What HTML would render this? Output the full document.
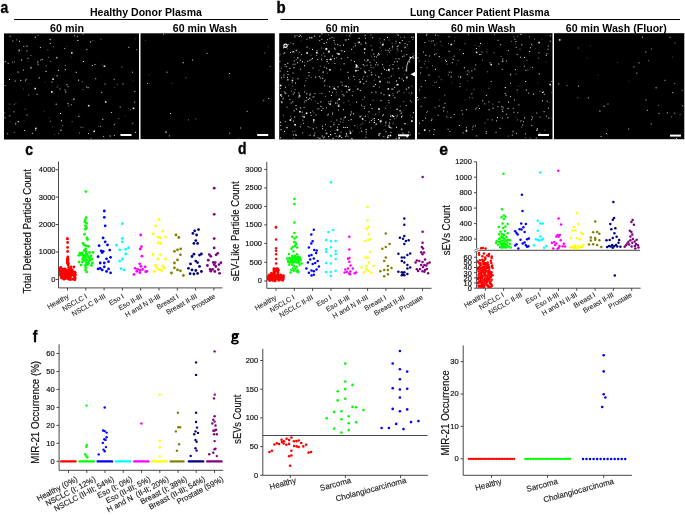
<!DOCTYPE html>
<html><head><meta charset="utf-8"><style>html,body{margin:0;padding:0;background:#fff}svg{display:block;will-change:transform}</style></head><body><svg width="685" height="516" viewBox="0 0 685 516"><rect x="4.0" y="33.4" width="135.0" height="106.1" fill="#000"/><path d="M134.8 38.8h1M101.7 64.2h1M52.1 126.8h1M53.5 93.4h1M124.5 115.9h1M132.2 80.9h1M15.4 103.3h1M48.6 118.1h1M21.0 49.8h1M23.6 120.8h1M79.3 113.8h1M97.7 126.0h1M57.4 85.1h1M29.4 83.8h1M15.3 122.3h1M9.9 121.7h1M66.5 46.4h1M23.0 89.0h1M113.9 87.4h1M128.1 108.8h1M53.9 75.2h1M54.0 134.4h1M88.5 129.9h1M43.9 111.6h1M70.6 57.0h1M12.3 63.1h1M71.5 100.1h1M8.3 108.5h1M114.6 123.8h1M44.4 82.3h1" stroke="#fff" stroke-opacity="0.25" stroke-width="1" fill="none"/><path d="M47.4 49.8h1M28.2 95.0h1M64.7 65.4h1M9.3 104.1h1M121.3 66.9h1M81.7 81.8h1M90.7 138.3h1M52.8 46.8h1M49.9 61.7h1M48.2 57.3h1M118.3 118.6h1M30.4 55.4h1M116.6 84.3h1M57.8 133.4h1M62.1 125.5h1M37.3 63.0h1M79.0 133.0h1M13.8 104.3h1M24.7 109.2h1M60.6 129.7h1M16.0 39.9h1M13.7 132.5h1M45.8 66.0h1M37.6 35.5h1M56.7 87.2h1M49.9 121.4h1M82.5 89.5h1M136.0 49.6h1M71.6 121.7h1M82.3 127.7h1M92.3 40.8h1M14.0 61.8h1M68.2 105.8h1M12.1 62.1h1M4.2 112.8h1M100.4 39.1h1M80.3 127.2h1M130.2 109.8h1M35.2 130.6h1M21.1 60.4h1" stroke="#fff" stroke-opacity="0.50" stroke-width="1" fill="none"/><path d="M88.1 133.5h1M23.3 46.3h1M95.2 78.8h1M36.7 94.3h1M21.3 59.9h1M14.8 81.1h1M113.8 124.7h1M27.6 58.3h1M12.3 41.0h1M86.3 49.5h1M7.1 133.8h1M76.8 36.7h1M119.7 107.1h1M26.4 115.0h1M7.7 63.3h1M132.0 72.2h1M104.5 84.1h1M134.1 102.2h1M37.7 64.7h1M51.4 82.1h1M60.4 130.4h1M74.1 35.9h1M4.5 117.9h1M101.2 92.4h1M86.1 87.0h1M64.6 89.9h1M122.3 135.6h1M25.6 79.3h1M9.3 115.8h1M24.0 130.5h1M64.8 69.5h1M39.9 47.5h1M113.7 79.3h1M13.5 111.8h1M41.8 59.4h1M25.1 80.8h1M134.3 91.4h1M67.6 86.7h1M9.6 36.3h1M99.9 126.3h1M18.1 121.7h1M110.9 112.5h1M103.1 136.4h1M94.5 64.5h1M113.9 135.6h1M32.1 133.3h1M4.5 85.6h1M22.9 70.1h1M17.6 121.6h1M37.4 61.8h1M128.2 47.3h1M91.9 65.5h1M26.4 50.9h1M64.3 48.6h1M49.8 43.5h1M59.5 89.0h1M40.3 60.0h1M82.7 33.9h1M18.6 50.1h1M19.0 41.3h1M122.4 83.9h1M70.8 104.8h1" stroke="#fff" stroke-opacity="0.80" stroke-width="1" fill="none"/><path d="M75.8 72.3h1M9.0 79.5h1M60.9 120.8h1M77.4 40.5h1M60.0 113.5h1M67.5 103.7h1M55.7 104.2h1M26.5 46.2h1M82.9 61.5h1M56.6 75.8h1M49.6 39.4h1M17.6 72.1h1M66.4 84.8h1M38.8 77.9h1M78.4 116.3h1M20.3 80.4h1M78.2 80.2h1M87.6 87.7h1M109.6 136.0h1M15.2 123.9h1M18.7 50.9h1M58.2 70.4h1M45.5 71.4h1M4.7 61.7h1M102.3 119.3h1M34.8 37.2h1M90.1 42.0h1M135.1 132.3h1M65.3 91.9h1" stroke="#fff" stroke-opacity="1.00" stroke-width="1" fill="none"/><rect x="73.1" y="98.3" width="1.6" height="1.6" fill="#fff" fill-opacity="0.60"/><rect x="34.4" y="87.8" width="1.6" height="1.6" fill="#fff" fill-opacity="0.90"/><rect x="51.0" y="91.1" width="1.6" height="1.6" fill="#fff" fill-opacity="1.00"/><rect x="30.2" y="66.9" width="1.6" height="1.6" fill="#fff" fill-opacity="0.60"/><rect x="71.0" y="52.1" width="1.6" height="1.6" fill="#fff" fill-opacity="0.90"/><rect x="87.9" y="104.9" width="1.6" height="1.6" fill="#fff" fill-opacity="0.90"/><rect x="103.6" y="65.4" width="1.6" height="1.6" fill="#fff" fill-opacity="0.90"/><rect x="35.0" y="127.7" width="1.6" height="1.6" fill="#fff" fill-opacity="0.90"/><rect x="52.3" y="78.4" width="1.6" height="1.6" fill="#fff" fill-opacity="0.90"/><rect x="104.9" y="101.1" width="1.6" height="1.6" fill="#fff" fill-opacity="0.90"/><rect x="131.8" y="122.6" width="1.6" height="1.6" fill="#fff" fill-opacity="0.35"/><rect x="56.0" y="56.9" width="1.6" height="1.6" fill="#fff" fill-opacity="0.60"/><rect x="132.7" y="107.5" width="1.6" height="1.6" fill="#fff" fill-opacity="0.90"/><rect x="93.4" y="130.6" width="1.6" height="1.6" fill="#fff" fill-opacity="0.90"/><rect x="120.5" y="134.0" width="11" height="2" fill="#fff"/><rect x="140.5" y="33.3" width="134.3" height="105.8" fill="#000"/><path d="M148.5 75.0h1M238.2 138.3h1M267.9 46.8h1M145.1 40.4h1M171.7 83.6h1" stroke="#fff" stroke-opacity="0.25" stroke-width="1" fill="none"/><path d="M185.6 77.9h1M269.8 66.5h1M188.0 119.9h1M195.3 118.9h1M264.2 53.0h1" stroke="#fff" stroke-opacity="0.50" stroke-width="1" fill="none"/><path d="M246.7 111.3h1M170.0 113.5h1M206.6 53.4h1M229.2 133.2h1M168.9 135.9h1M229.1 73.5h1M163.1 34.1h1M147.1 83.4h1M240.1 128.0h1M268.2 98.5h1M192.0 60.1h1" stroke="#fff" stroke-opacity="0.80" stroke-width="1" fill="none"/><path d="M182.7 62.7h1" stroke="#fff" stroke-opacity="1.00" stroke-width="1" fill="none"/><rect x="165.2" y="131.4" width="1.6" height="1.6" fill="#fff" fill-opacity="0.60"/><rect x="166.2" y="71.5" width="1.6" height="1.6" fill="#fff" fill-opacity="0.35"/><rect x="262.7" y="99.7" width="1.6" height="1.6" fill="#fff" fill-opacity="0.35"/><rect x="257.2" y="134.0" width="11" height="2" fill="#fff"/><rect x="279.2" y="33.2" width="135.8" height="106.3" fill="#000"/><path d="M410.4 95.1h1M404.0 74.5h1M407.4 48.0h1M345.5 134.4h1M381.1 50.4h1M386.7 61.6h1M366.2 80.4h1M280.9 91.7h1M315.0 101.3h1M409.1 86.7h1M307.0 61.4h1M323.4 53.6h1M383.5 107.4h1M300.9 116.0h1M280.0 53.7h1M367.9 116.8h1M359.0 132.4h1M331.2 116.5h1M306.2 112.7h1M357.3 128.1h1M384.2 78.6h1M339.6 50.5h1M328.3 138.1h1M345.7 35.3h1M287.5 125.6h1M409.9 115.5h1M349.3 79.4h1M300.6 40.7h1M293.9 57.4h1M385.0 108.3h1M357.6 43.0h1M392.9 122.0h1M355.4 86.1h1M356.6 126.3h1M338.5 99.5h1M327.5 53.3h1M374.4 61.2h1M401.7 115.3h1M406.8 78.3h1M389.7 108.0h1M322.8 82.2h1M395.9 136.3h1M319.2 93.8h1M294.6 52.7h1M381.2 45.8h1M374.6 78.6h1M396.8 93.0h1M330.5 48.9h1M393.1 75.1h1M405.6 69.6h1M288.3 84.7h1M304.6 90.2h1M341.7 35.1h1M354.0 52.8h1M334.5 130.5h1M300.3 124.6h1M395.6 52.9h1M326.9 86.0h1M308.2 135.6h1M309.0 48.7h1M403.9 53.9h1M335.5 95.2h1M321.4 60.6h1M396.0 118.1h1M387.2 54.8h1M392.2 49.1h1M403.7 138.6h1M323.8 136.5h1M326.3 50.8h1M396.6 65.2h1M406.7 45.9h1M386.2 105.6h1M304.0 62.3h1M332.4 86.3h1M292.8 91.9h1M330.0 131.5h1M349.6 104.9h1M323.0 48.1h1" stroke="#fff" stroke-opacity="0.25" stroke-width="1" fill="none"/><path d="M390.1 115.1h1M292.2 86.2h1M310.8 77.6h1M380.0 122.9h1M343.2 120.0h1M313.6 96.8h1M280.7 68.2h1M321.3 55.1h1M390.4 50.6h1M333.7 122.8h1M295.8 59.7h1M365.0 42.4h1M294.7 89.6h1M293.3 138.3h1M379.4 38.8h1M285.7 127.3h1M280.1 122.6h1M372.9 122.7h1M353.9 79.6h1M379.5 133.2h1M364.2 106.7h1M342.5 122.1h1M372.6 100.4h1M294.3 37.3h1M364.7 120.6h1M292.7 44.0h1M395.4 43.3h1M279.4 55.0h1M290.1 116.7h1M350.9 113.1h1M411.8 117.4h1M372.7 86.4h1M336.0 57.8h1M292.4 77.9h1M363.0 76.8h1M303.9 102.6h1M348.2 101.0h1M353.1 46.9h1M337.0 100.8h1M361.2 116.0h1M408.7 41.6h1M283.0 97.9h1M400.2 37.3h1M336.1 92.0h1M347.5 136.4h1M362.3 99.7h1M371.0 56.1h1M383.6 130.0h1M284.5 46.2h1M334.8 44.4h1M296.6 35.6h1M328.2 101.6h1M411.0 121.2h1M360.3 128.1h1M393.9 118.7h1M313.5 112.8h1M291.0 118.6h1M365.6 134.4h1M385.2 108.4h1M286.7 48.9h1M370.5 35.0h1M292.3 131.5h1M340.2 69.5h1M286.9 127.9h1M303.5 114.8h1M289.9 42.9h1M316.1 55.4h1M388.5 69.0h1M295.5 108.9h1M299.0 94.0h1M337.9 137.0h1M365.7 61.7h1M352.3 131.0h1M291.0 91.2h1M341.3 91.4h1M362.3 123.2h1M378.8 112.0h1M396.6 34.2h1M384.8 125.6h1M340.2 81.9h1M326.5 133.5h1M399.8 106.3h1M392.7 95.4h1M383.1 67.7h1M389.2 65.7h1M311.2 37.4h1M328.8 59.6h1M373.5 59.9h1M284.5 66.4h1M392.4 93.7h1M380.2 42.8h1M378.8 121.1h1M321.1 48.1h1M359.9 82.3h1M403.2 101.6h1M282.9 115.2h1M304.2 100.9h1M301.9 116.3h1M323.2 53.1h1M357.5 42.1h1M392.5 123.8h1M324.9 79.9h1M388.5 40.0h1M283.0 53.6h1M408.6 93.0h1M294.4 131.1h1M305.2 80.7h1M396.8 115.2h1M328.1 63.4h1M378.9 87.3h1M319.8 66.2h1M360.5 124.7h1M366.7 76.4h1M412.3 39.6h1M382.6 43.2h1M360.3 68.5h1M375.1 114.1h1M343.3 102.7h1M299.3 52.4h1M301.0 36.8h1M411.6 86.2h1M310.4 55.1h1M325.0 130.4h1M328.1 34.8h1M352.5 91.5h1M372.8 67.9h1M310.8 100.0h1M370.5 67.6h1M349.8 89.2h1M330.6 121.3h1M332.5 138.7h1M343.7 117.8h1M391.6 43.3h1M306.4 78.3h1M341.6 82.4h1M348.2 120.5h1M333.3 38.0h1M318.5 108.5h1M403.5 92.8h1M292.8 43.7h1M402.1 67.9h1M291.8 82.6h1M370.7 45.7h1M318.4 70.3h1M315.8 127.7h1M326.8 73.2h1M362.5 106.6h1M312.2 111.0h1M343.9 86.1h1M379.7 47.9h1M401.2 112.1h1M358.8 79.5h1M334.0 42.9h1M325.0 96.3h1M388.7 77.8h1M373.7 80.2h1M309.4 127.4h1M412.5 53.6h1M328.0 103.3h1M332.1 112.4h1M411.1 102.0h1M330.5 135.1h1M397.5 50.8h1M339.9 121.8h1" stroke="#fff" stroke-opacity="0.50" stroke-width="1" fill="none"/><path d="M283.8 91.9h1M392.5 64.6h1M299.9 126.8h1M332.6 138.2h1M406.7 44.8h1M287.7 44.4h1M334.4 63.5h1M321.3 93.4h1M395.7 138.6h1M336.3 120.1h1M308.6 75.8h1M392.2 46.1h1M363.7 65.9h1M336.6 103.1h1M282.4 98.9h1M382.1 115.8h1M348.1 39.4h1M389.1 48.8h1M307.3 61.4h1M396.9 92.2h1M327.8 114.2h1M365.4 137.3h1M362.2 79.2h1M309.4 95.2h1M396.6 116.1h1M280.7 101.6h1M306.1 97.7h1M388.8 52.1h1M310.5 37.8h1M338.1 110.0h1M288.1 95.9h1M317.3 109.1h1M283.4 77.2h1M325.9 107.9h1M279.8 85.4h1M304.1 85.8h1M314.3 133.1h1M363.8 71.1h1M312.6 68.1h1M331.5 37.3h1M298.3 97.3h1M401.6 79.0h1M365.7 81.5h1M364.1 60.0h1M292.8 94.2h1M327.1 39.7h1M281.0 77.8h1M388.3 100.5h1M309.7 135.2h1M389.6 119.6h1M393.9 61.9h1M317.1 59.5h1M310.7 115.4h1M350.8 111.8h1M345.7 39.9h1M345.4 86.2h1M280.1 122.2h1M368.9 122.2h1M323.7 137.1h1M324.8 124.4h1M390.8 76.2h1M323.8 67.1h1M390.1 116.5h1M319.9 78.1h1M363.9 108.4h1M344.8 40.0h1M374.0 120.8h1M337.0 127.2h1M279.4 61.4h1M388.6 125.0h1M326.0 42.7h1M361.0 105.1h1M303.6 107.5h1M385.3 50.1h1M395.9 84.9h1M354.3 125.4h1M401.9 40.5h1M370.4 65.2h1M402.1 56.7h1M328.7 50.9h1M279.8 88.4h1M322.5 108.6h1M345.7 86.4h1M333.9 48.1h1M390.5 132.4h1M392.4 89.0h1M318.8 76.5h1M395.4 58.8h1M317.6 137.7h1M287.6 74.5h1M300.0 69.2h1M346.3 135.1h1M331.9 92.2h1M385.3 123.2h1M351.8 138.8h1M371.6 74.7h1M292.5 73.1h1M364.1 97.2h1M365.0 38.2h1M350.8 138.7h1M292.7 51.7h1M357.7 70.4h1M286.6 127.5h1M404.7 123.7h1M376.0 57.0h1M354.9 45.8h1M391.8 47.2h1M387.7 50.5h1M347.3 57.6h1M396.8 46.6h1M315.7 115.0h1M303.1 123.3h1M293.9 92.9h1M319.2 40.6h1M296.2 109.2h1M368.7 70.7h1M301.0 54.6h1M286.5 107.2h1M409.9 100.8h1M287.2 71.4h1M311.3 59.2h1M405.4 70.7h1M298.3 93.0h1M294.6 64.2h1M339.6 45.6h1M328.9 91.7h1M311.5 38.0h1M317.4 103.4h1M401.1 51.0h1M366.5 65.2h1M290.7 103.2h1M335.3 89.5h1M350.7 60.2h1M338.4 124.6h1M293.0 121.1h1M301.8 112.2h1M360.6 44.2h1M304.2 92.1h1M325.4 49.6h1M370.8 75.0h1M342.3 94.5h1M369.6 62.4h1M314.5 93.6h1M412.9 37.3h1M405.7 105.4h1M322.8 137.8h1M312.0 58.4h1M280.2 125.4h1M290.0 52.5h1M327.3 115.2h1M374.2 56.7h1M388.3 125.9h1M403.6 56.0h1M324.3 85.8h1M351.8 95.7h1M383.3 136.6h1M387.1 82.1h1M380.5 120.3h1M359.8 81.4h1M307.5 126.7h1M372.1 37.7h1M285.0 87.3h1M397.0 109.3h1M335.7 136.2h1M394.2 87.4h1M375.2 75.1h1M343.0 109.7h1M302.4 120.2h1M370.9 72.3h1M376.0 62.6h1M329.3 38.3h1M375.2 64.8h1M388.5 70.8h1M381.1 73.7h1M343.0 127.5h1M396.7 49.0h1M280.0 137.8h1M306.4 39.2h1M341.8 85.2h1M286.1 66.8h1M355.4 67.8h1M340.5 132.1h1M395.5 41.3h1M370.0 104.8h1M284.8 121.7h1M357.7 67.3h1M404.5 43.5h1M403.8 37.1h1M354.6 43.8h1M302.1 132.8h1M397.7 46.0h1M345.0 117.0h1M283.4 75.1h1M399.2 42.6h1M340.9 58.6h1M371.6 108.5h1M324.4 56.2h1M289.4 99.4h1M371.3 92.4h1M382.0 64.4h1M316.6 50.7h1M321.3 39.3h1M406.4 54.5h1M293.8 61.1h1" stroke="#fff" stroke-opacity="0.80" stroke-width="1" fill="none"/><path d="M378.7 54.7h1M284.6 64.6h1M396.0 81.0h1M308.5 72.5h1M365.4 43.3h1M377.3 55.1h1M341.3 50.8h1M365.6 129.5h1M329.2 86.8h1M349.5 131.2h1M387.7 135.5h1M343.0 45.0h1M377.9 119.5h1M385.5 131.7h1M284.2 52.9h1M370.8 128.0h1M321.3 33.9h1M279.6 71.1h1M363.3 83.7h1M312.0 49.4h1M312.7 128.8h1M333.9 58.7h1M397.8 35.3h1M397.8 68.3h1M307.8 99.3h1M298.7 36.5h1M389.7 127.6h1M402.5 133.1h1M322.2 78.3h1M373.5 86.2h1M330.3 126.8h1M326.2 68.1h1M368.5 111.8h1M383.5 94.7h1M398.5 58.8h1M374.0 122.5h1M292.9 135.0h1M305.6 100.9h1M345.2 136.3h1M334.5 133.5h1M332.1 114.0h1M326.7 61.6h1M405.9 89.2h1M332.0 56.0h1M336.6 53.3h1M404.4 123.7h1M401.3 116.3h1M364.6 35.3h1M367.6 60.0h1M401.1 117.1h1M385.4 122.0h1M354.0 61.6h1M350.0 114.8h1M364.8 116.3h1M398.6 91.1h1M365.7 132.0h1M403.0 80.7h1M299.7 35.3h1M295.6 135.5h1M378.1 53.4h1M321.1 110.5h1M338.3 105.0h1M355.6 64.5h1M389.2 127.1h1M343.4 95.8h1M413.6 73.1h1M349.2 35.9h1M295.4 134.7h1M309.1 37.8h1M293.4 67.8h1M344.1 51.5h1M284.1 131.4h1M396.0 127.3h1M375.4 92.0h1M315.1 77.1h1M392.4 68.9h1M322.1 128.8h1M343.6 63.8h1M391.4 89.1h1M396.7 61.7h1M373.4 54.2h1M396.4 109.2h1M383.9 69.3h1M389.1 123.0h1M408.3 132.1h1M337.6 86.9h1M320.4 101.9h1M408.1 87.8h1M351.2 49.3h1M356.1 102.2h1M321.1 59.2h1M330.9 95.4h1M304.0 65.7h1M350.7 119.6h1M398.9 78.0h1M348.2 86.9h1M320.5 106.4h1M346.3 92.0h1M302.0 61.8h1M346.0 133.7h1M344.5 117.2h1M333.6 40.6h1M326.5 59.5h1M300.2 108.0h1M330.0 134.6h1M297.0 62.8h1M364.0 52.8h1M394.3 97.7h1M294.2 117.0h1M373.9 118.5h1M353.1 113.8h1M287.3 63.3h1M412.9 112.7h1M411.3 93.1h1M367.2 60.2h1M345.8 86.3h1M309.7 94.0h1M383.8 39.8h1M281.2 96.3h1M370.9 120.6h1M294.5 35.9h1M387.1 37.4h1M289.4 68.4h1M358.6 38.3h1M341.1 137.6h1M353.4 76.4h1M313.9 36.1h1M286.9 77.3h1M323.6 43.5h1M283.0 47.8h1M293.7 110.9h1M333.4 124.7h1M309.4 60.2h1M319.4 138.4h1M344.7 127.5h1M319.3 36.3h1M280.5 129.7h1M411.3 37.2h1M337.2 44.7h1M321.9 126.2h1M297.5 78.8h1M361.1 131.2h1M321.7 136.0h1M309.3 98.2h1M299.9 60.2h1M306.3 93.8h1M400.7 113.4h1M382.9 114.8h1M380.7 93.1h1M375.1 84.5h1M348.1 77.9h1M335.1 103.1h1M371.7 50.0h1M330.4 101.2h1M359.8 90.6h1M324.1 81.0h1M359.5 82.3h1M292.3 101.8h1M295.1 83.0h1M347.5 72.3h1M306.6 47.1h1M346.8 127.5h1M310.1 112.7h1M325.6 48.5h1M380.5 100.7h1M393.2 116.5h1M313.2 122.0h1M362.7 64.5h1M295.5 105.6h1M350.3 33.7h1M340.5 118.9h1M328.2 136.5h1M386.2 70.3h1M409.5 135.0h1M409.1 61.8h1" stroke="#fff" stroke-opacity="1.00" stroke-width="1" fill="none"/><rect x="322.3" y="71.3" width="1.6" height="1.6" fill="#fff" fill-opacity="0.60"/><rect x="305.8" y="112.5" width="1.6" height="1.6" fill="#fff" fill-opacity="1.00"/><rect x="398.3" y="137.2" width="1.6" height="1.6" fill="#fff" fill-opacity="1.00"/><rect x="388.2" y="102.0" width="1.6" height="1.6" fill="#fff" fill-opacity="0.35"/><rect x="406.3" y="135.9" width="1.6" height="1.6" fill="#fff" fill-opacity="0.90"/><rect x="284.7" y="92.4" width="1.6" height="1.6" fill="#fff" fill-opacity="0.60"/><rect x="291.6" y="79.7" width="1.6" height="1.6" fill="#fff" fill-opacity="0.90"/><rect x="297.0" y="57.1" width="1.6" height="1.6" fill="#fff" fill-opacity="0.60"/><rect x="379.2" y="80.8" width="1.6" height="1.6" fill="#fff" fill-opacity="1.00"/><rect x="325.7" y="48.1" width="1.6" height="1.6" fill="#fff" fill-opacity="1.00"/><rect x="399.2" y="42.3" width="1.6" height="1.6" fill="#fff" fill-opacity="0.35"/><rect x="382.0" y="43.9" width="1.6" height="1.6" fill="#fff" fill-opacity="1.00"/><rect x="375.4" y="123.3" width="1.6" height="1.6" fill="#fff" fill-opacity="0.60"/><rect x="313.4" y="134.7" width="1.6" height="1.6" fill="#fff" fill-opacity="0.60"/><rect x="281.2" y="101.7" width="1.6" height="1.6" fill="#fff" fill-opacity="0.60"/><rect x="333.5" y="87.7" width="1.6" height="1.6" fill="#fff" fill-opacity="1.00"/><rect x="389.6" y="134.7" width="1.6" height="1.6" fill="#fff" fill-opacity="1.00"/><rect x="306.3" y="52.2" width="1.6" height="1.6" fill="#fff" fill-opacity="1.00"/><rect x="400.9" y="128.5" width="1.6" height="1.6" fill="#fff" fill-opacity="0.60"/><rect x="363.9" y="48.2" width="1.6" height="1.6" fill="#fff" fill-opacity="1.00"/><rect x="292.4" y="63.7" width="1.6" height="1.6" fill="#fff" fill-opacity="0.35"/><rect x="377.1" y="64.1" width="1.6" height="1.6" fill="#fff" fill-opacity="0.35"/><rect x="388.0" y="69.1" width="1.6" height="1.6" fill="#fff" fill-opacity="1.00"/><rect x="388.6" y="94.6" width="1.6" height="1.6" fill="#fff" fill-opacity="1.00"/><rect x="378.0" y="76.2" width="1.6" height="1.6" fill="#fff" fill-opacity="0.60"/><rect x="348.4" y="89.1" width="1.6" height="1.6" fill="#fff" fill-opacity="0.90"/><rect x="409.6" y="56.8" width="1.6" height="1.6" fill="#fff" fill-opacity="1.00"/><rect x="313.0" y="119.2" width="1.6" height="1.6" fill="#fff" fill-opacity="1.00"/><rect x="356.9" y="88.3" width="1.6" height="1.6" fill="#fff" fill-opacity="0.60"/><rect x="364.5" y="71.6" width="1.6" height="1.6" fill="#fff" fill-opacity="0.90"/><rect x="388.3" y="126.3" width="1.6" height="1.6" fill="#fff" fill-opacity="0.35"/><rect x="336.7" y="129.1" width="1.6" height="1.6" fill="#fff" fill-opacity="1.00"/><rect x="411.1" y="120.2" width="1.6" height="1.6" fill="#fff" fill-opacity="0.90"/><rect x="295.6" y="49.7" width="1.6" height="1.6" fill="#fff" fill-opacity="0.60"/><rect x="361.8" y="118.1" width="1.6" height="1.6" fill="#fff" fill-opacity="1.00"/><rect x="338.5" y="98.5" width="1.6" height="1.6" fill="#fff" fill-opacity="1.00"/><rect x="355.7" y="65.9" width="1.6" height="1.6" fill="#fff" fill-opacity="0.90"/><rect x="378.2" y="108.2" width="1.6" height="1.6" fill="#fff" fill-opacity="1.00"/><rect x="337.8" y="105.3" width="1.6" height="1.6" fill="#fff" fill-opacity="0.90"/><rect x="391.7" y="115.0" width="1.6" height="1.6" fill="#fff" fill-opacity="0.90"/><rect x="380.0" y="120.5" width="1.6" height="1.6" fill="#fff" fill-opacity="0.90"/><rect x="404.3" y="46.6" width="1.6" height="1.6" fill="#fff" fill-opacity="0.60"/><rect x="328.1" y="50.9" width="1.6" height="1.6" fill="#fff" fill-opacity="1.00"/><rect x="337.7" y="53.2" width="1.6" height="1.6" fill="#fff" fill-opacity="0.90"/><rect x="338.9" y="135.3" width="1.6" height="1.6" fill="#fff" fill-opacity="1.00"/><rect x="338.4" y="53.3" width="1.6" height="1.6" fill="#fff" fill-opacity="0.60"/><rect x="355.1" y="69.9" width="1.6" height="1.6" fill="#fff" fill-opacity="1.00"/><rect x="294.3" y="124.0" width="1.6" height="1.6" fill="#fff" fill-opacity="1.00"/><rect x="358.5" y="41.6" width="1.6" height="1.6" fill="#fff" fill-opacity="0.90"/><rect x="378.6" y="133.0" width="1.6" height="1.6" fill="#fff" fill-opacity="0.60"/><rect x="372.1" y="118.3" width="1.6" height="1.6" fill="#fff" fill-opacity="0.35"/><rect x="280.0" y="94.2" width="1.6" height="1.6" fill="#fff" fill-opacity="0.90"/><rect x="355.9" y="65.0" width="1.6" height="1.6" fill="#fff" fill-opacity="1.00"/><rect x="378.1" y="134.6" width="1.6" height="1.6" fill="#fff" fill-opacity="0.60"/><rect x="349.7" y="132.3" width="1.6" height="1.6" fill="#fff" fill-opacity="1.00"/><rect x="412.6" y="57.2" width="1.6" height="1.6" fill="#fff" fill-opacity="0.60"/><rect x="292.3" y="51.0" width="1.6" height="1.6" fill="#fff" fill-opacity="0.60"/><rect x="299.1" y="110.9" width="1.6" height="1.6" fill="#fff" fill-opacity="0.90"/><rect x="316.0" y="51.9" width="1.6" height="1.6" fill="#fff" fill-opacity="1.00"/><rect x="334.5" y="48.3" width="1.6" height="1.6" fill="#fff" fill-opacity="0.35"/><rect x="330.0" y="58.6" width="1.6" height="1.6" fill="#fff" fill-opacity="1.00"/><rect x="392.8" y="115.8" width="1.6" height="1.6" fill="#fff" fill-opacity="0.35"/><rect x="390.7" y="127.3" width="1.6" height="1.6" fill="#fff" fill-opacity="0.35"/><rect x="387.5" y="88.1" width="1.6" height="1.6" fill="#fff" fill-opacity="0.90"/><rect x="329.2" y="69.0" width="1.6" height="1.6" fill="#fff" fill-opacity="0.90"/><rect x="329.4" y="103.3" width="1.6" height="1.6" fill="#fff" fill-opacity="0.90"/><rect x="289.6" y="119.3" width="1.6" height="1.6" fill="#fff" fill-opacity="1.00"/><rect x="287.0" y="78.9" width="1.6" height="1.6" fill="#fff" fill-opacity="0.60"/><rect x="387.0" y="136.4" width="1.6" height="1.6" fill="#fff" fill-opacity="0.90"/><rect x="325.6" y="132.6" width="1.6" height="1.6" fill="#fff" fill-opacity="0.60"/><rect x="303.3" y="116.1" width="1.6" height="1.6" fill="#fff" fill-opacity="0.90"/><rect x="396.9" y="83.8" width="1.6" height="1.6" fill="#fff" fill-opacity="1.00"/><rect x="359.4" y="115.8" width="1.6" height="1.6" fill="#fff" fill-opacity="0.60"/><rect x="312.3" y="96.3" width="1.6" height="1.6" fill="#fff" fill-opacity="0.35"/><rect x="388.5" y="81.8" width="1.6" height="1.6" fill="#fff" fill-opacity="0.35"/><rect x="406.0" y="76.6" width="1.6" height="1.6" fill="#fff" fill-opacity="0.90"/><rect x="279.8" y="84.7" width="1.6" height="1.6" fill="#fff" fill-opacity="1.00"/><rect x="399.3" y="109.9" width="1.6" height="1.6" fill="#fff" fill-opacity="0.60"/><rect x="298.7" y="95.1" width="1.6" height="1.6" fill="#fff" fill-opacity="0.90"/><rect x="398.0" y="134.3" width="11" height="2" fill="#fff"/><rect x="417.0" y="33.2" width="135.5" height="106.0" fill="#000"/><path d="M518.4 86.3h1M550.9 118.1h1M492.4 107.3h1M439.0 100.1h1M512.5 133.0h1M479.4 38.2h1M542.1 100.8h1M474.7 45.3h1M515.5 117.3h1M548.9 102.4h1M466.4 90.1h1M432.2 85.5h1M515.0 43.7h1M418.3 53.6h1M436.3 43.9h1M517.1 92.8h1M532.4 45.3h1M449.2 51.6h1M428.2 61.6h1M544.2 111.4h1M487.2 94.7h1M545.7 61.9h1M456.0 64.0h1M486.1 49.6h1M467.0 80.6h1M454.5 37.6h1M451.3 83.0h1M498.6 128.1h1M535.2 48.3h1M537.3 83.1h1M465.7 71.8h1M484.6 128.1h1M541.4 39.2h1M464.7 99.8h1M441.5 45.8h1" stroke="#fff" stroke-opacity="0.25" stroke-width="1" fill="none"/><path d="M459.3 49.7h1M492.2 104.1h1M432.0 65.9h1M502.3 106.4h1M488.5 88.4h1M484.5 123.2h1M516.9 119.9h1M434.7 107.6h1M454.0 40.8h1M507.9 136.1h1M511.1 41.3h1M478.1 105.4h1M544.5 130.3h1M515.5 74.0h1M468.0 34.7h1M426.5 67.7h1M447.8 74.9h1M437.6 35.6h1M517.2 36.2h1M478.6 46.5h1M464.4 43.6h1M519.5 49.2h1M471.8 97.9h1M513.4 36.9h1M529.6 138.1h1M521.2 127.1h1M471.8 129.6h1M418.8 61.0h1M440.7 79.7h1M457.8 76.6h1M528.9 36.9h1M532.0 118.0h1M505.7 95.3h1M468.7 72.1h1M534.0 39.0h1M500.6 56.4h1M472.0 127.0h1M473.5 89.3h1M505.5 95.3h1M493.7 52.8h1M426.9 111.5h1M508.2 108.2h1M538.1 58.1h1M520.1 121.4h1M457.5 60.6h1M419.0 89.9h1M510.2 74.1h1M442.7 108.0h1M448.1 43.5h1M446.7 64.2h1M520.7 120.5h1M487.1 71.8h1M482.0 60.2h1M459.8 83.8h1M434.3 82.6h1M426.2 112.5h1M423.9 63.9h1M525.2 137.7h1M526.4 60.3h1M527.4 70.0h1M473.0 126.1h1M487.4 119.8h1M446.9 111.9h1M551.5 92.6h1M539.4 91.6h1M486.5 52.1h1M444.2 95.2h1M428.6 41.0h1M436.1 82.0h1M438.7 76.8h1M439.8 41.4h1M494.0 34.4h1M469.1 97.7h1M424.7 61.4h1" stroke="#fff" stroke-opacity="0.50" stroke-width="1" fill="none"/><path d="M465.8 130.0h1M528.2 93.2h1M518.4 104.9h1M543.5 111.7h1M525.4 70.4h1M471.3 93.9h1M523.0 121.7h1M453.7 56.1h1M417.5 99.8h1M424.9 80.5h1M422.3 120.6h1M501.7 69.4h1M446.3 117.0h1M420.8 86.7h1M501.7 109.8h1M485.9 95.5h1M549.7 41.2h1M463.0 53.6h1M443.1 111.0h1M443.6 107.6h1M514.1 99.9h1M423.0 52.1h1M437.7 115.3h1M539.6 117.1h1M434.3 45.1h1M435.0 35.1h1M482.2 100.8h1M434.0 54.7h1M502.6 107.9h1M514.4 39.3h1M507.5 108.6h1M510.1 83.2h1M497.6 40.3h1M449.3 131.4h1M547.9 108.2h1M438.9 87.5h1M491.8 119.9h1M531.1 44.3h1M510.1 96.6h1M474.9 125.9h1M476.4 107.9h1M536.2 130.4h1M431.1 120.4h1M488.4 101.9h1M429.1 56.0h1M517.3 112.8h1M420.7 106.3h1M546.7 101.2h1M497.4 106.7h1M426.0 35.2h1M453.8 114.5h1M504.7 93.5h1M419.0 123.2h1M465.9 109.6h1M450.8 72.2h1M450.4 117.3h1M519.9 57.2h1M448.6 36.8h1M481.5 52.0h1M432.9 40.8h1M515.4 41.5h1M444.6 103.3h1M516.6 90.1h1M498.4 102.1h1M538.4 52.8h1M476.0 48.5h1M495.5 132.3h1M418.7 133.3h1M485.8 133.3h1M551.4 81.6h1M460.3 76.4h1M420.1 73.0h1M417.0 97.5h1M492.6 108.4h1M433.2 134.5h1M448.5 51.3h1M504.9 87.5h1M448.8 72.2h1M545.9 116.2h1M545.8 55.5h1M506.2 114.2h1M543.8 94.3h1M507.9 50.6h1M511.8 135.2h1M531.3 125.6h1M426.4 34.2h1M417.5 57.8h1M549.8 35.7h1M547.5 49.3h1M460.1 77.5h1M424.4 42.5h1M500.9 106.8h1M515.0 69.6h1M435.6 53.9h1M502.3 59.0h1M499.7 128.4h1M506.1 61.1h1M523.8 66.2h1M479.1 54.5h1M500.2 44.7h1M431.3 41.1h1M529.1 51.5h1M474.3 69.2h1M547.7 46.0h1M536.9 128.6h1M498.2 64.0h1M515.7 47.3h1M431.4 119.1h1M531.9 67.4h1M462.9 53.4h1M531.1 119.7h1M467.4 70.8h1M447.6 129.2h1M536.3 113.0h1M529.9 47.7h1M490.7 81.5h1M522.2 125.0h1M516.7 54.5h1M524.9 133.9h1M458.9 125.5h1M496.0 120.8h1M475.2 109.0h1M535.8 137.9h1M512.5 131.3h1M461.3 110.6h1M484.3 103.9h1M485.7 131.6h1M501.9 118.1h1M451.9 62.7h1M513.4 112.3h1M512.8 108.3h1M462.2 114.2h1M459.5 86.7h1M476.2 135.9h1M480.4 54.5h1M471.3 70.9h1M509.9 74.9h1M475.2 65.0h1M515.9 133.4h1M531.5 116.8h1M462.7 132.9h1M420.6 67.6h1M465.9 127.7h1M542.0 100.8h1M466.8 74.4h1M489.5 62.7h1M425.0 118.3h1M539.4 133.1h1M429.1 130.8h1" stroke="#fff" stroke-opacity="0.80" stroke-width="1" fill="none"/><path d="M452.7 59.3h1M435.0 69.3h1M525.8 90.1h1M425.4 55.3h1M525.2 81.5h1M445.1 60.2h1M538.8 73.9h1M502.3 111.6h1M548.3 118.0h1M536.7 129.9h1M497.0 117.6h1M520.4 34.4h1M463.9 67.8h1M450.6 77.0h1M478.9 108.4h1M543.0 92.0h1M504.8 87.7h1M546.4 53.9h1M507.4 117.7h1M445.9 61.6h1M471.6 77.9h1M541.9 92.5h1M524.2 117.9h1M488.7 109.8h1M424.5 97.7h1M521.3 44.9h1M428.5 75.1h1M533.1 94.1h1M508.0 102.2h1M524.1 57.5h1M433.8 129.7h1M480.0 43.4h1M438.8 56.6h1M438.6 106.1h1" stroke="#fff" stroke-opacity="1.00" stroke-width="1" fill="none"/><rect x="501.8" y="60.5" width="1.6" height="1.6" fill="#fff" fill-opacity="0.60"/><rect x="490.4" y="63.8" width="1.6" height="1.6" fill="#fff" fill-opacity="0.90"/><rect x="549.4" y="83.8" width="1.6" height="1.6" fill="#fff" fill-opacity="0.90"/><rect x="538.3" y="41.8" width="1.6" height="1.6" fill="#fff" fill-opacity="0.90"/><rect x="423.9" y="129.3" width="1.6" height="1.6" fill="#fff" fill-opacity="1.00"/><rect x="475.8" y="51.6" width="1.6" height="1.6" fill="#fff" fill-opacity="0.90"/><rect x="450.5" y="43.7" width="1.6" height="1.6" fill="#fff" fill-opacity="0.90"/><rect x="465.7" y="130.2" width="1.6" height="1.6" fill="#fff" fill-opacity="0.90"/><rect x="538.0" y="134.0" width="11" height="2" fill="#fff"/><rect x="554.0" y="33.2" width="130.3" height="106.0" fill="#000"/><path d="M586.8 58.1h1M628.4 81.1h1M597.6 75.3h1M606.9 134.5h1M617.2 62.6h1M589.8 45.6h1M672.0 56.9h1" stroke="#fff" stroke-opacity="0.25" stroke-width="1" fill="none"/><path d="M577.4 97.7h1M670.9 116.9h1M674.7 42.9h1M647.9 60.6h1M566.6 85.6h1M650.9 48.9h1M681.8 90.5h1M578.0 48.0h1M674.2 83.5h1M679.6 114.7h1M658.2 105.3h1" stroke="#fff" stroke-opacity="0.50" stroke-width="1" fill="none"/><path d="M650.7 123.9h1M666.9 112.8h1M645.6 99.9h1M600.6 136.5h1M645.3 52.1h1M642.0 37.2h1M672.3 92.6h1M607.5 104.0h1M633.5 66.9h1M682.1 105.9h1M587.9 97.8h1M674.3 113.2h1M628.1 129.0h1M638.6 62.9h1M675.9 138.5h1M658.5 113.3h1M605.9 133.5h1M636.3 73.2h1M558.3 83.9h1M669.5 37.3h1M646.9 110.3h1M578.0 86.2h1M664.5 80.3h1" stroke="#fff" stroke-opacity="0.80" stroke-width="1" fill="none"/><path d="M599.4 111.1h1M603.6 106.2h1M655.6 87.8h1" stroke="#fff" stroke-opacity="1.00" stroke-width="1" fill="none"/><rect x="558.9" y="39.1" width="1.6" height="1.6" fill="#fff" fill-opacity="0.90"/><rect x="670.0" y="134.6" width="11" height="2" fill="#fff"/><circle cx="285.5" cy="45.8" r="1.7" fill="none" stroke="#fff" stroke-width="1.1"/><path d="M414.2 55.5 Q405.8 60 406.6 71.5" fill="none" stroke="#fff" stroke-width="0.9" stroke-opacity="0.8"/><path d="M415 72 L410.5 74.3 L415 76.6z" fill="#fff"/><text transform="translate(0.5 12.6) scale(0.87 1)" font-family="Liberation Sans, sans-serif" font-weight="bold" font-size="16.0" stroke="#000" stroke-width="0.35">a</text><text transform="translate(276.6 13.1) scale(0.94 1)" font-family="Liberation Sans, sans-serif" font-weight="bold" font-size="16.0" stroke="#000" stroke-width="0.35">b</text><text transform="translate(25.3 154.8) scale(0.87 1)" font-family="Liberation Sans, sans-serif" font-weight="bold" font-size="16.0" stroke="#000" stroke-width="0.35">c</text><text transform="translate(238.0 154.0) scale(0.87 1)" font-family="Liberation Sans, sans-serif" font-weight="bold" font-size="16.0" stroke="#000" stroke-width="0.35">d</text><text transform="translate(439.2 154.8) scale(0.99 1)" font-family="Liberation Sans, sans-serif" font-weight="bold" font-size="16.0" stroke="#000" stroke-width="0.35">e</text><text transform="translate(32.7 341.5) scale(0.87 1)" font-family="Liberation Sans, sans-serif" font-weight="bold" font-size="16.0" stroke="#000" stroke-width="0.35">f</text><g fill="none" stroke="#000"><ellipse cx="234.9" cy="336.1" rx="2.15" ry="1.95" stroke-width="2.1"/><ellipse cx="234.9" cy="342.1" rx="3.1" ry="1.55" stroke-width="1.5"/><path d="M235.8 333.9H239.2" stroke-width="1.5"/><path d="M233.4 337.8Q231.6 339.6 233.4 340.9" stroke-width="1.4"/></g><text x="90.0" y="15.6" font-family="Liberation Sans, sans-serif" font-weight="bold" font-size="10.0" text-anchor="start" textLength="112.0" lengthAdjust="spacingAndGlyphs">Healthy Donor Plasma</text><text x="410.0" y="15.6" font-family="Liberation Sans, sans-serif" font-weight="bold" font-size="10.0" text-anchor="start" textLength="139.5" lengthAdjust="spacingAndGlyphs">Lung Cancer Patient Plasma</text><text x="50.0" y="31.6" font-family="Liberation Sans, sans-serif" font-weight="bold" font-size="10.0" text-anchor="start" textLength="34.0" lengthAdjust="spacingAndGlyphs">60 min</text><text x="172.8" y="31.6" font-family="Liberation Sans, sans-serif" font-weight="bold" font-size="10.0" text-anchor="start" textLength="64.3" lengthAdjust="spacingAndGlyphs">60 min Wash</text><text x="325.8" y="31.6" font-family="Liberation Sans, sans-serif" font-weight="bold" font-size="10.0" text-anchor="start" textLength="33.5" lengthAdjust="spacingAndGlyphs">60 min</text><text x="451.0" y="31.6" font-family="Liberation Sans, sans-serif" font-weight="bold" font-size="10.0" text-anchor="start" textLength="64.6" lengthAdjust="spacingAndGlyphs">60 min Wash</text><text x="565.8" y="31.6" font-family="Liberation Sans, sans-serif" font-weight="bold" font-size="10.0" text-anchor="start" textLength="101.0" lengthAdjust="spacingAndGlyphs">60 min Wash (Fluor)</text><path d="M14 19.5H268M280.5 19.5H680" stroke="#000" stroke-width="1" fill="none"/><path d="M58.5 161.5V287.9H222.4M58.5 279.4h-2.6M58.5 252.0h-2.6M58.5 224.5h-2.6M58.5 197.1h-2.6M58.5 169.7h-2.6M67.5 287.9v2.6M85.8 287.9v2.6M104.1 287.9v2.6M122.4 287.9v2.6M140.7 287.9v2.6M159.0 287.9v2.6M177.3 287.9v2.6M195.6 287.9v2.6M213.9 287.9v2.6" stroke="#333" stroke-width="0.9" fill="none"/><text transform="translate(55.5 281.8) scale(0.926 1)" font-family="Liberation Sans, sans-serif" font-size="8.10" text-anchor="end" fill="#111" stroke="#111" stroke-width="0.20">0</text><text transform="translate(55.5 254.4) scale(0.926 1)" font-family="Liberation Sans, sans-serif" font-size="8.10" text-anchor="end" fill="#111" stroke="#111" stroke-width="0.20">1000</text><text transform="translate(55.5 226.9) scale(0.926 1)" font-family="Liberation Sans, sans-serif" font-size="8.10" text-anchor="end" fill="#111" stroke="#111" stroke-width="0.20">2000</text><text transform="translate(55.5 199.5) scale(0.926 1)" font-family="Liberation Sans, sans-serif" font-size="8.10" text-anchor="end" fill="#111" stroke="#111" stroke-width="0.20">3000</text><text transform="translate(55.5 172.1) scale(0.926 1)" font-family="Liberation Sans, sans-serif" font-size="8.10" text-anchor="end" fill="#111" stroke="#111" stroke-width="0.20">4000</text><text transform="translate(69.5 297.7) rotate(-30.0) scale(0.980 1)" font-family="Liberation Sans, sans-serif" font-size="7.14" text-anchor="end" fill="#222" stroke="#222" stroke-width="0.08">Healthy</text><text transform="translate(87.8 297.7) rotate(-30.0) scale(0.980 1)" font-family="Liberation Sans, sans-serif" font-size="7.14" text-anchor="end" fill="#222" stroke="#222" stroke-width="0.08">NSCLC I</text><text transform="translate(106.1 297.7) rotate(-30.0) scale(0.980 1)" font-family="Liberation Sans, sans-serif" font-size="7.14" text-anchor="end" fill="#222" stroke="#222" stroke-width="0.08">NSCLC II-III</text><text transform="translate(124.4 297.7) rotate(-30.0) scale(0.980 1)" font-family="Liberation Sans, sans-serif" font-size="7.14" text-anchor="end" fill="#222" stroke="#222" stroke-width="0.08">Eso I</text><text transform="translate(142.7 297.7) rotate(-30.0) scale(0.980 1)" font-family="Liberation Sans, sans-serif" font-size="7.14" text-anchor="end" fill="#222" stroke="#222" stroke-width="0.08">Eso II-III</text><text transform="translate(161.0 297.7) rotate(-30.0) scale(0.980 1)" font-family="Liberation Sans, sans-serif" font-size="7.14" text-anchor="end" fill="#222" stroke="#222" stroke-width="0.08">H and N II-III</text><text transform="translate(179.3 297.7) rotate(-30.0) scale(0.980 1)" font-family="Liberation Sans, sans-serif" font-size="7.14" text-anchor="end" fill="#222" stroke="#222" stroke-width="0.08">Breast I</text><text transform="translate(197.6 297.7) rotate(-30.0) scale(0.980 1)" font-family="Liberation Sans, sans-serif" font-size="7.14" text-anchor="end" fill="#222" stroke="#222" stroke-width="0.08">Breast II-III</text><text transform="translate(215.9 297.7) rotate(-30.0) scale(0.980 1)" font-family="Liberation Sans, sans-serif" font-size="7.14" text-anchor="end" fill="#222" stroke="#222" stroke-width="0.08">Prostate</text><text transform="translate(30.6 231.3) rotate(-90.0) scale(0.926 1)" font-family="Liberation Sans, sans-serif" font-size="10.37" text-anchor="middle" fill="#111" stroke="#111" stroke-width="0.20">Total Detected Particle Count</text><g fill="#ff0000"><circle cx="67.4" cy="238.7" r="1.40"/><circle cx="67.6" cy="242.5" r="1.40"/><circle cx="67.6" cy="247.4" r="1.40"/><circle cx="67.6" cy="251.5" r="1.40"/><circle cx="67.8" cy="256.9" r="1.40"/><circle cx="67.6" cy="259.0" r="1.40"/><circle cx="67.4" cy="261.0" r="1.40"/><circle cx="67.6" cy="263.1" r="1.40"/><circle cx="68.2" cy="265.1" r="1.40"/><circle cx="68.6" cy="267.6" r="1.40"/><circle cx="67.3" cy="238.8" r="1.40"/><circle cx="67.0" cy="276.9" r="1.40"/><circle cx="74.8" cy="277.8" r="1.40"/><circle cx="62.3" cy="275.1" r="1.40"/><circle cx="68.4" cy="273.9" r="1.40"/><circle cx="62.4" cy="270.2" r="1.40"/><circle cx="67.1" cy="274.5" r="1.40"/><circle cx="64.0" cy="272.7" r="1.40"/><circle cx="68.4" cy="276.4" r="1.40"/><circle cx="69.0" cy="272.3" r="1.40"/><circle cx="73.6" cy="272.7" r="1.40"/><circle cx="74.8" cy="279.2" r="1.40"/><circle cx="62.0" cy="274.3" r="1.40"/><circle cx="74.9" cy="272.8" r="1.40"/><circle cx="68.3" cy="273.4" r="1.40"/><circle cx="60.2" cy="271.1" r="1.40"/><circle cx="61.7" cy="271.9" r="1.40"/><circle cx="69.6" cy="274.9" r="1.40"/><circle cx="74.6" cy="275.1" r="1.40"/><circle cx="65.5" cy="278.6" r="1.40"/><circle cx="69.7" cy="274.8" r="1.40"/><circle cx="73.3" cy="275.0" r="1.40"/><circle cx="65.4" cy="275.2" r="1.40"/><circle cx="64.5" cy="278.8" r="1.40"/><circle cx="63.6" cy="278.9" r="1.40"/><circle cx="60.8" cy="267.4" r="1.40"/><circle cx="68.4" cy="272.6" r="1.40"/><circle cx="67.7" cy="271.9" r="1.40"/><circle cx="72.9" cy="275.0" r="1.40"/><circle cx="70.5" cy="277.9" r="1.40"/><circle cx="75.3" cy="275.1" r="1.40"/><circle cx="70.9" cy="266.8" r="1.40"/><circle cx="60.6" cy="273.2" r="1.40"/><circle cx="74.9" cy="272.2" r="1.40"/><circle cx="68.7" cy="270.1" r="1.40"/><circle cx="66.3" cy="277.8" r="1.40"/><circle cx="69.0" cy="276.9" r="1.40"/><circle cx="60.0" cy="271.1" r="1.40"/><circle cx="62.6" cy="276.6" r="1.40"/><circle cx="61.4" cy="278.0" r="1.40"/><circle cx="64.0" cy="277.2" r="1.40"/><circle cx="67.8" cy="273.5" r="1.40"/><circle cx="74.9" cy="273.0" r="1.40"/><circle cx="70.7" cy="269.1" r="1.40"/><circle cx="72.8" cy="279.2" r="1.40"/><circle cx="61.5" cy="275.7" r="1.40"/><circle cx="64.0" cy="270.4" r="1.40"/><circle cx="65.5" cy="275.6" r="1.40"/><circle cx="74.7" cy="279.8" r="1.40"/><circle cx="75.3" cy="274.6" r="1.40"/><circle cx="70.0" cy="270.6" r="1.40"/><circle cx="71.1" cy="274.1" r="1.40"/><circle cx="65.4" cy="277.8" r="1.40"/><circle cx="63.8" cy="270.3" r="1.40"/><circle cx="62.3" cy="270.4" r="1.40"/><circle cx="69.0" cy="276.7" r="1.40"/><circle cx="62.3" cy="273.7" r="1.40"/><circle cx="68.8" cy="274.9" r="1.40"/><circle cx="66.2" cy="274.8" r="1.40"/><circle cx="60.0" cy="268.9" r="1.40"/><circle cx="66.4" cy="272.9" r="1.40"/><circle cx="71.6" cy="271.5" r="1.40"/><circle cx="72.7" cy="271.5" r="1.40"/><circle cx="61.2" cy="273.6" r="1.40"/><circle cx="65.8" cy="273.5" r="1.40"/><circle cx="71.7" cy="271.3" r="1.40"/><circle cx="70.3" cy="276.6" r="1.40"/><circle cx="66.9" cy="274.5" r="1.40"/><circle cx="74.2" cy="274.5" r="1.40"/><circle cx="62.6" cy="269.1" r="1.40"/><circle cx="61.1" cy="272.4" r="1.40"/><circle cx="61.2" cy="274.8" r="1.40"/><circle cx="66.4" cy="273.4" r="1.40"/><circle cx="67.8" cy="278.4" r="1.40"/><circle cx="63.6" cy="270.5" r="1.40"/><circle cx="64.6" cy="272.3" r="1.40"/><circle cx="74.0" cy="275.3" r="1.40"/><circle cx="66.5" cy="272.3" r="1.40"/><circle cx="60.5" cy="270.0" r="1.40"/><circle cx="73.0" cy="274.8" r="1.40"/><circle cx="62.2" cy="274.6" r="1.40"/><circle cx="60.7" cy="273.8" r="1.40"/><circle cx="65.0" cy="269.7" r="1.40"/><circle cx="71.4" cy="275.4" r="1.40"/><circle cx="67.8" cy="272.3" r="1.40"/><circle cx="70.2" cy="273.2" r="1.40"/><circle cx="70.1" cy="269.5" r="1.40"/><circle cx="73.9" cy="267.0" r="1.40"/><circle cx="63.3" cy="272.9" r="1.40"/><circle cx="62.9" cy="269.5" r="1.40"/><circle cx="70.5" cy="279.7" r="1.40"/><circle cx="65.0" cy="271.7" r="1.40"/><circle cx="70.3" cy="271.3" r="1.40"/><circle cx="66.1" cy="275.8" r="1.40"/><circle cx="66.5" cy="272.2" r="1.40"/><circle cx="60.9" cy="274.0" r="1.40"/><circle cx="75.3" cy="277.8" r="1.40"/><circle cx="61.4" cy="273.7" r="1.40"/><circle cx="67.4" cy="272.5" r="1.40"/><circle cx="70.2" cy="273.7" r="1.40"/><circle cx="72.4" cy="272.0" r="1.40"/><circle cx="74.4" cy="276.4" r="1.40"/><circle cx="67.2" cy="272.1" r="1.40"/><circle cx="67.3" cy="271.9" r="1.40"/><circle cx="70.5" cy="275.2" r="1.40"/><circle cx="68.8" cy="279.2" r="1.40"/><circle cx="60.5" cy="275.4" r="1.40"/><circle cx="72.3" cy="269.9" r="1.40"/><circle cx="64.8" cy="268.8" r="1.40"/><circle cx="68.9" cy="276.0" r="1.40"/><circle cx="65.2" cy="275.2" r="1.40"/><circle cx="65.5" cy="275.9" r="1.40"/><circle cx="64.1" cy="279.1" r="1.40"/><circle cx="66.6" cy="269.8" r="1.40"/><circle cx="61.2" cy="275.5" r="1.40"/><circle cx="73.3" cy="274.7" r="1.40"/><circle cx="62.2" cy="277.1" r="1.40"/><circle cx="71.0" cy="269.9" r="1.40"/><circle cx="65.7" cy="275.6" r="1.40"/><circle cx="59.9" cy="268.5" r="1.40"/><circle cx="65.3" cy="277.5" r="1.40"/><circle cx="68.1" cy="259.8" r="1.40"/><circle cx="68.0" cy="264.8" r="1.40"/><circle cx="68.0" cy="262.7" r="1.40"/><circle cx="68.1" cy="263.3" r="1.40"/><circle cx="68.0" cy="262.4" r="1.40"/><circle cx="67.3" cy="261.9" r="1.40"/><circle cx="67.6" cy="260.0" r="1.40"/><circle cx="67.5" cy="261.9" r="1.40"/><circle cx="67.7" cy="258.8" r="1.40"/><circle cx="67.4" cy="261.8" r="1.40"/><circle cx="67.6" cy="260.9" r="1.40"/><circle cx="67.8" cy="258.4" r="1.40"/></g><g fill="#00ff00"><circle cx="85.9" cy="191.6" r="1.40"/><circle cx="86.1" cy="217.7" r="1.40"/><circle cx="85.3" cy="219.9" r="1.40"/><circle cx="84.9" cy="221.8" r="1.40"/><circle cx="86.5" cy="223.3" r="1.40"/><circle cx="85.5" cy="225.8" r="1.40"/><circle cx="86.5" cy="227.7" r="1.40"/><circle cx="85.3" cy="229.2" r="1.40"/><circle cx="84.6" cy="234.2" r="1.40"/><circle cx="86.9" cy="237.8" r="1.40"/><circle cx="87.6" cy="239.6" r="1.40"/><circle cx="82.9" cy="243.4" r="1.40"/><circle cx="84.2" cy="244.9" r="1.40"/><circle cx="86.2" cy="245.9" r="1.40"/><circle cx="88.7" cy="246.3" r="1.40"/><circle cx="85.6" cy="249.0" r="1.40"/><circle cx="84.3" cy="250.6" r="1.40"/><circle cx="85.8" cy="251.6" r="1.40"/><circle cx="79.9" cy="253.1" r="1.40"/><circle cx="82.5" cy="252.8" r="1.40"/><circle cx="89.5" cy="252.4" r="1.40"/><circle cx="93.0" cy="252.3" r="1.40"/><circle cx="78.8" cy="255.3" r="1.40"/><circle cx="81.7" cy="254.9" r="1.40"/><circle cx="84.2" cy="255.3" r="1.40"/><circle cx="87.0" cy="254.5" r="1.40"/><circle cx="91.1" cy="255.9" r="1.40"/><circle cx="83.3" cy="257.3" r="1.40"/><circle cx="85.4" cy="258.2" r="1.40"/><circle cx="89.5" cy="258.2" r="1.40"/><circle cx="91.9" cy="258.8" r="1.40"/><circle cx="82.5" cy="259.4" r="1.40"/><circle cx="86.6" cy="260.2" r="1.40"/><circle cx="89.1" cy="261.0" r="1.40"/><circle cx="79.1" cy="262.1" r="1.40"/><circle cx="82.5" cy="262.1" r="1.40"/><circle cx="86.2" cy="262.7" r="1.40"/><circle cx="88.7" cy="263.1" r="1.40"/><circle cx="92.3" cy="262.9" r="1.40"/><circle cx="81.1" cy="265.1" r="1.40"/><circle cx="85.4" cy="265.5" r="1.40"/><circle cx="87.4" cy="264.7" r="1.40"/><circle cx="91.5" cy="265.4" r="1.40"/><circle cx="85.8" cy="267.6" r="1.40"/><circle cx="85.4" cy="269.8" r="1.40"/><circle cx="86.6" cy="271.9" r="1.40"/><circle cx="85.0" cy="256.5" r="1.40"/><circle cx="87.8" cy="256.5" r="1.40"/><circle cx="86.2" cy="253.4" r="1.40"/><circle cx="80.9" cy="253.9" r="1.40"/><circle cx="90.3" cy="259.8" r="1.40"/><circle cx="84.2" cy="260.6" r="1.40"/></g><g fill="#0000ff"><circle cx="104.3" cy="211.0" r="1.40"/><circle cx="104.3" cy="217.3" r="1.40"/><circle cx="105.2" cy="225.8" r="1.40"/><circle cx="103.1" cy="237.9" r="1.40"/><circle cx="105.2" cy="241.8" r="1.40"/><circle cx="99.1" cy="245.7" r="1.40"/><circle cx="107.5" cy="245.0" r="1.40"/><circle cx="109.7" cy="250.1" r="1.40"/><circle cx="101.2" cy="250.8" r="1.40"/><circle cx="103.1" cy="251.3" r="1.40"/><circle cx="102.2" cy="252.6" r="1.40"/><circle cx="98.1" cy="256.7" r="1.40"/><circle cx="110.6" cy="257.3" r="1.40"/><circle cx="106.5" cy="258.8" r="1.40"/><circle cx="108.5" cy="261.7" r="1.40"/><circle cx="100.2" cy="263.0" r="1.40"/><circle cx="104.3" cy="263.0" r="1.40"/><circle cx="104.3" cy="266.8" r="1.40"/><circle cx="98.1" cy="268.9" r="1.40"/><circle cx="100.2" cy="268.4" r="1.40"/><circle cx="102.2" cy="269.9" r="1.40"/><circle cx="108.5" cy="268.9" r="1.40"/><circle cx="106.5" cy="271.4" r="1.40"/><circle cx="110.6" cy="272.8" r="1.40"/></g><g fill="#00ffff"><circle cx="122.3" cy="223.7" r="1.40"/><circle cx="122.3" cy="238.4" r="1.40"/><circle cx="122.3" cy="241.8" r="1.40"/><circle cx="116.6" cy="245.2" r="1.40"/><circle cx="128.6" cy="247.7" r="1.40"/><circle cx="125.7" cy="249.2" r="1.40"/><circle cx="119.7" cy="249.8" r="1.40"/><circle cx="125.7" cy="254.0" r="1.40"/><circle cx="122.5" cy="259.0" r="1.40"/><circle cx="119.7" cy="261.1" r="1.40"/><circle cx="121.0" cy="268.6" r="1.40"/><circle cx="124.0" cy="269.9" r="1.40"/></g><g fill="#ff00ff"><circle cx="140.7" cy="235.0" r="1.40"/><circle cx="141.4" cy="246.6" r="1.40"/><circle cx="140.2" cy="249.0" r="1.40"/><circle cx="141.9" cy="256.2" r="1.40"/><circle cx="139.7" cy="263.8" r="1.40"/><circle cx="141.0" cy="266.3" r="1.40"/><circle cx="145.2" cy="266.8" r="1.40"/><circle cx="135.1" cy="268.3" r="1.40"/><circle cx="137.7" cy="269.3" r="1.40"/><circle cx="142.7" cy="269.3" r="1.40"/><circle cx="140.2" cy="270.5" r="1.40"/><circle cx="136.8" cy="271.3" r="1.40"/><circle cx="146.9" cy="271.3" r="1.40"/><circle cx="139.8" cy="272.7" r="1.40"/><circle cx="145.7" cy="271.7" r="1.40"/><circle cx="134.0" cy="274.4" r="1.40"/></g><g fill="#ffff00"><circle cx="159.1" cy="219.5" r="1.40"/><circle cx="155.6" cy="225.8" r="1.40"/><circle cx="162.7" cy="231.2" r="1.40"/><circle cx="153.1" cy="234.0" r="1.40"/><circle cx="157.8" cy="237.1" r="1.40"/><circle cx="160.3" cy="238.1" r="1.40"/><circle cx="165.4" cy="237.1" r="1.40"/><circle cx="158.1" cy="242.8" r="1.40"/><circle cx="160.6" cy="243.4" r="1.40"/><circle cx="153.1" cy="254.5" r="1.40"/><circle cx="160.3" cy="254.6" r="1.40"/><circle cx="158.1" cy="259.0" r="1.40"/><circle cx="165.4" cy="259.0" r="1.40"/><circle cx="155.3" cy="265.3" r="1.40"/><circle cx="162.9" cy="265.8" r="1.40"/><circle cx="156.8" cy="267.8" r="1.40"/><circle cx="164.1" cy="268.0" r="1.40"/><circle cx="159.3" cy="269.6" r="1.40"/><circle cx="161.6" cy="270.5" r="1.40"/><circle cx="154.3" cy="271.5" r="1.40"/></g><g fill="#808000"><circle cx="176.0" cy="234.9" r="1.40"/><circle cx="178.8" cy="237.5" r="1.40"/><circle cx="180.7" cy="248.8" r="1.40"/><circle cx="177.5" cy="249.8" r="1.40"/><circle cx="174.4" cy="251.3" r="1.40"/><circle cx="180.4" cy="254.8" r="1.40"/><circle cx="177.5" cy="259.9" r="1.40"/><circle cx="174.4" cy="263.0" r="1.40"/><circle cx="174.4" cy="267.8" r="1.40"/><circle cx="177.5" cy="269.9" r="1.40"/><circle cx="180.4" cy="270.8" r="1.40"/><circle cx="171.5" cy="273.0" r="1.40"/><circle cx="183.4" cy="275.5" r="1.40"/></g><g fill="#000080"><circle cx="198.5" cy="229.6" r="1.40"/><circle cx="194.7" cy="230.8" r="1.40"/><circle cx="192.9" cy="233.4" r="1.40"/><circle cx="196.6" cy="235.0" r="1.40"/><circle cx="195.8" cy="240.6" r="1.40"/><circle cx="193.9" cy="243.4" r="1.40"/><circle cx="197.6" cy="243.4" r="1.40"/><circle cx="193.9" cy="254.2" r="1.40"/><circle cx="201.4" cy="254.0" r="1.40"/><circle cx="199.5" cy="255.1" r="1.40"/><circle cx="192.0" cy="256.5" r="1.40"/><circle cx="195.8" cy="261.1" r="1.40"/><circle cx="197.6" cy="262.6" r="1.40"/><circle cx="190.5" cy="263.9" r="1.40"/><circle cx="199.5" cy="266.4" r="1.40"/><circle cx="188.5" cy="268.3" r="1.40"/><circle cx="192.0" cy="269.9" r="1.40"/><circle cx="195.8" cy="270.5" r="1.40"/><circle cx="201.4" cy="271.5" r="1.40"/><circle cx="197.6" cy="273.4" r="1.40"/><circle cx="190.1" cy="273.7" r="1.40"/><circle cx="193.9" cy="274.0" r="1.40"/></g><g fill="#800080"><circle cx="214.2" cy="188.2" r="1.40"/><circle cx="214.2" cy="214.3" r="1.40"/><circle cx="214.2" cy="238.6" r="1.40"/><circle cx="214.2" cy="247.9" r="1.40"/><circle cx="217.7" cy="253.3" r="1.40"/><circle cx="216.1" cy="254.8" r="1.40"/><circle cx="209.3" cy="254.6" r="1.40"/><circle cx="210.8" cy="256.3" r="1.40"/><circle cx="208.3" cy="260.2" r="1.40"/><circle cx="220.9" cy="262.7" r="1.40"/><circle cx="213.3" cy="262.4" r="1.40"/><circle cx="215.2" cy="262.6" r="1.40"/><circle cx="219.0" cy="264.6" r="1.40"/><circle cx="214.2" cy="264.6" r="1.40"/><circle cx="207.4" cy="265.5" r="1.40"/><circle cx="215.8" cy="266.5" r="1.40"/><circle cx="210.2" cy="269.3" r="1.40"/><circle cx="212.7" cy="269.3" r="1.40"/><circle cx="218.4" cy="269.6" r="1.40"/><circle cx="210.8" cy="271.2" r="1.40"/><circle cx="214.8" cy="271.5" r="1.40"/><circle cx="219.6" cy="273.3" r="1.40"/></g><path d="M266.8 161.8V288.3H431.5M266.8 281.0h-2.6M266.8 262.3h-2.6M266.8 243.4h-2.6M266.8 224.9h-2.6M266.8 206.4h-2.6M266.8 187.9h-2.6M266.8 169.4h-2.6M276.0 288.3v2.6M294.3 288.3v2.6M312.6 288.3v2.6M331.0 288.3v2.6M349.3 288.3v2.6M367.6 288.3v2.6M385.9 288.3v2.6M404.2 288.3v2.6M422.6 288.3v2.6" stroke="#333" stroke-width="0.9" fill="none"/><text transform="translate(262.0 283.4) scale(0.926 1)" font-family="Liberation Sans, sans-serif" font-size="8.10" text-anchor="end" fill="#111" stroke="#111" stroke-width="0.20">0</text><text transform="translate(262.0 264.7) scale(0.926 1)" font-family="Liberation Sans, sans-serif" font-size="8.10" text-anchor="end" fill="#111" stroke="#111" stroke-width="0.20">500</text><text transform="translate(262.0 245.8) scale(0.926 1)" font-family="Liberation Sans, sans-serif" font-size="8.10" text-anchor="end" fill="#111" stroke="#111" stroke-width="0.20">1000</text><text transform="translate(262.0 227.3) scale(0.926 1)" font-family="Liberation Sans, sans-serif" font-size="8.10" text-anchor="end" fill="#111" stroke="#111" stroke-width="0.20">1500</text><text transform="translate(262.0 208.8) scale(0.926 1)" font-family="Liberation Sans, sans-serif" font-size="8.10" text-anchor="end" fill="#111" stroke="#111" stroke-width="0.20">2000</text><text transform="translate(262.0 190.3) scale(0.926 1)" font-family="Liberation Sans, sans-serif" font-size="8.10" text-anchor="end" fill="#111" stroke="#111" stroke-width="0.20">2500</text><text transform="translate(262.0 171.8) scale(0.926 1)" font-family="Liberation Sans, sans-serif" font-size="8.10" text-anchor="end" fill="#111" stroke="#111" stroke-width="0.20">3000</text><text transform="translate(277.0 298.9) rotate(-30.0) scale(0.980 1)" font-family="Liberation Sans, sans-serif" font-size="7.14" text-anchor="end" fill="#222" stroke="#222" stroke-width="0.08">Healthy</text><text transform="translate(295.3 298.9) rotate(-30.0) scale(0.980 1)" font-family="Liberation Sans, sans-serif" font-size="7.14" text-anchor="end" fill="#222" stroke="#222" stroke-width="0.08">NSCLC I</text><text transform="translate(313.6 298.9) rotate(-30.0) scale(0.980 1)" font-family="Liberation Sans, sans-serif" font-size="7.14" text-anchor="end" fill="#222" stroke="#222" stroke-width="0.08">NSCLC II-III</text><text transform="translate(332.0 298.9) rotate(-30.0) scale(0.980 1)" font-family="Liberation Sans, sans-serif" font-size="7.14" text-anchor="end" fill="#222" stroke="#222" stroke-width="0.08">Eso I</text><text transform="translate(350.3 298.9) rotate(-30.0) scale(0.980 1)" font-family="Liberation Sans, sans-serif" font-size="7.14" text-anchor="end" fill="#222" stroke="#222" stroke-width="0.08">Eso II-III</text><text transform="translate(368.6 298.9) rotate(-30.0) scale(0.980 1)" font-family="Liberation Sans, sans-serif" font-size="7.14" text-anchor="end" fill="#222" stroke="#222" stroke-width="0.08">H and N II-III</text><text transform="translate(386.9 298.9) rotate(-30.0) scale(0.980 1)" font-family="Liberation Sans, sans-serif" font-size="7.14" text-anchor="end" fill="#222" stroke="#222" stroke-width="0.08">Breast I</text><text transform="translate(405.2 298.9) rotate(-30.0) scale(0.980 1)" font-family="Liberation Sans, sans-serif" font-size="7.14" text-anchor="end" fill="#222" stroke="#222" stroke-width="0.08">Breast II-III</text><text transform="translate(423.6 298.9) rotate(-30.0) scale(0.980 1)" font-family="Liberation Sans, sans-serif" font-size="7.14" text-anchor="end" fill="#222" stroke="#222" stroke-width="0.08">Prostate</text><text transform="translate(239.1 231.3) rotate(-90.0) scale(0.926 1)" font-family="Liberation Sans, sans-serif" font-size="10.26" text-anchor="middle" fill="#111" stroke="#111" stroke-width="0.20">sEV-Like Particle Count</text><g fill="#ff0000"><circle cx="276.1" cy="239.5" r="1.25"/><circle cx="276.1" cy="248.3" r="1.25"/><circle cx="276.1" cy="250.8" r="1.25"/><circle cx="276.1" cy="254.2" r="1.25"/><circle cx="276.1" cy="259.0" r="1.25"/><circle cx="276.1" cy="263.6" r="1.25"/><circle cx="275.9" cy="227.5" r="1.25"/><circle cx="276.0" cy="227.1" r="1.25"/><circle cx="276.4" cy="276.2" r="1.25"/><circle cx="280.1" cy="278.4" r="1.25"/><circle cx="280.3" cy="277.6" r="1.25"/><circle cx="271.9" cy="279.9" r="1.25"/><circle cx="276.0" cy="276.8" r="1.25"/><circle cx="272.5" cy="277.0" r="1.25"/><circle cx="279.2" cy="279.1" r="1.25"/><circle cx="275.6" cy="278.6" r="1.25"/><circle cx="271.3" cy="277.2" r="1.25"/><circle cx="273.6" cy="276.4" r="1.25"/><circle cx="273.6" cy="278.7" r="1.25"/><circle cx="279.6" cy="275.7" r="1.25"/><circle cx="271.6" cy="278.9" r="1.25"/><circle cx="278.3" cy="278.3" r="1.25"/><circle cx="278.0" cy="278.4" r="1.25"/><circle cx="272.2" cy="274.3" r="1.25"/><circle cx="273.6" cy="273.8" r="1.25"/><circle cx="283.2" cy="277.6" r="1.25"/><circle cx="278.6" cy="280.4" r="1.25"/><circle cx="280.7" cy="275.9" r="1.25"/><circle cx="273.3" cy="274.9" r="1.25"/><circle cx="280.6" cy="278.6" r="1.25"/><circle cx="275.7" cy="276.8" r="1.25"/><circle cx="272.2" cy="277.4" r="1.25"/><circle cx="279.2" cy="279.6" r="1.25"/><circle cx="281.4" cy="279.4" r="1.25"/><circle cx="274.9" cy="277.1" r="1.25"/><circle cx="272.9" cy="280.5" r="1.25"/><circle cx="270.8" cy="275.3" r="1.25"/><circle cx="272.4" cy="279.9" r="1.25"/><circle cx="281.5" cy="276.6" r="1.25"/><circle cx="281.4" cy="279.6" r="1.25"/><circle cx="274.7" cy="275.6" r="1.25"/><circle cx="280.2" cy="276.8" r="1.25"/><circle cx="269.8" cy="279.7" r="1.25"/><circle cx="274.9" cy="276.9" r="1.25"/><circle cx="277.4" cy="276.1" r="1.25"/><circle cx="268.2" cy="276.9" r="1.25"/><circle cx="273.9" cy="273.3" r="1.25"/><circle cx="273.8" cy="278.7" r="1.25"/><circle cx="273.2" cy="278.3" r="1.25"/><circle cx="277.8" cy="275.6" r="1.25"/><circle cx="268.2" cy="278.3" r="1.25"/><circle cx="277.6" cy="276.3" r="1.25"/><circle cx="271.1" cy="279.3" r="1.25"/><circle cx="282.4" cy="275.9" r="1.25"/><circle cx="277.2" cy="277.8" r="1.25"/><circle cx="273.0" cy="273.9" r="1.25"/><circle cx="273.1" cy="278.1" r="1.25"/><circle cx="277.5" cy="277.5" r="1.25"/><circle cx="269.8" cy="275.8" r="1.25"/><circle cx="272.9" cy="277.0" r="1.25"/><circle cx="273.7" cy="279.7" r="1.25"/><circle cx="269.7" cy="280.8" r="1.25"/><circle cx="271.7" cy="279.3" r="1.25"/><circle cx="271.8" cy="277.9" r="1.25"/><circle cx="273.9" cy="273.9" r="1.25"/><circle cx="280.6" cy="279.0" r="1.25"/><circle cx="272.2" cy="278.8" r="1.25"/><circle cx="275.5" cy="280.8" r="1.25"/><circle cx="268.8" cy="276.9" r="1.25"/><circle cx="271.5" cy="278.1" r="1.25"/><circle cx="280.3" cy="279.2" r="1.25"/><circle cx="276.6" cy="276.9" r="1.25"/><circle cx="280.6" cy="274.8" r="1.25"/><circle cx="272.0" cy="278.7" r="1.25"/><circle cx="274.9" cy="280.9" r="1.25"/><circle cx="269.3" cy="277.3" r="1.25"/><circle cx="271.3" cy="272.9" r="1.25"/><circle cx="269.4" cy="274.7" r="1.25"/><circle cx="273.8" cy="277.1" r="1.25"/><circle cx="276.0" cy="276.3" r="1.25"/><circle cx="279.1" cy="277.6" r="1.25"/><circle cx="283.5" cy="275.4" r="1.25"/><circle cx="276.0" cy="277.4" r="1.25"/><circle cx="273.8" cy="279.4" r="1.25"/><circle cx="271.2" cy="279.5" r="1.25"/><circle cx="273.6" cy="276.6" r="1.25"/><circle cx="277.7" cy="277.8" r="1.25"/><circle cx="272.4" cy="274.6" r="1.25"/><circle cx="283.1" cy="276.8" r="1.25"/><circle cx="269.7" cy="278.2" r="1.25"/><circle cx="276.4" cy="276.5" r="1.25"/><circle cx="273.1" cy="279.2" r="1.25"/><circle cx="273.3" cy="277.1" r="1.25"/><circle cx="283.1" cy="276.7" r="1.25"/><circle cx="274.3" cy="275.4" r="1.25"/><circle cx="278.4" cy="278.2" r="1.25"/><circle cx="275.0" cy="277.0" r="1.25"/><circle cx="271.6" cy="278.9" r="1.25"/><circle cx="275.2" cy="279.2" r="1.25"/><circle cx="273.9" cy="278.6" r="1.25"/><circle cx="268.4" cy="275.8" r="1.25"/><circle cx="283.2" cy="278.3" r="1.25"/><circle cx="278.6" cy="277.5" r="1.25"/><circle cx="275.4" cy="275.7" r="1.25"/><circle cx="270.7" cy="278.1" r="1.25"/><circle cx="278.9" cy="276.1" r="1.25"/><circle cx="278.1" cy="275.1" r="1.25"/><circle cx="277.6" cy="275.5" r="1.25"/><circle cx="276.0" cy="276.5" r="1.25"/><circle cx="276.7" cy="275.1" r="1.25"/><circle cx="275.6" cy="278.0" r="1.25"/><circle cx="270.0" cy="276.4" r="1.25"/><circle cx="278.7" cy="277.7" r="1.25"/><circle cx="277.7" cy="278.8" r="1.25"/><circle cx="277.0" cy="275.8" r="1.25"/><circle cx="274.9" cy="279.1" r="1.25"/><circle cx="276.9" cy="278.7" r="1.25"/><circle cx="273.7" cy="277.2" r="1.25"/><circle cx="283.3" cy="279.1" r="1.25"/><circle cx="278.3" cy="274.8" r="1.25"/><circle cx="277.6" cy="273.9" r="1.25"/><circle cx="282.7" cy="280.5" r="1.25"/><circle cx="279.5" cy="276.2" r="1.25"/><circle cx="281.3" cy="275.5" r="1.25"/><circle cx="281.1" cy="277.6" r="1.25"/><circle cx="268.2" cy="279.6" r="1.25"/><circle cx="274.9" cy="279.1" r="1.25"/><circle cx="278.8" cy="277.6" r="1.25"/><circle cx="277.7" cy="269.0" r="1.25"/><circle cx="277.9" cy="269.7" r="1.25"/><circle cx="273.7" cy="269.7" r="1.25"/><circle cx="273.9" cy="268.4" r="1.25"/><circle cx="276.6" cy="268.6" r="1.25"/><circle cx="274.4" cy="269.5" r="1.25"/><circle cx="274.9" cy="272.6" r="1.25"/><circle cx="277.9" cy="272.4" r="1.25"/><circle cx="278.4" cy="270.2" r="1.25"/><circle cx="277.4" cy="269.4" r="1.25"/><circle cx="278.0" cy="272.1" r="1.25"/><circle cx="277.1" cy="269.1" r="1.25"/><circle cx="274.0" cy="272.6" r="1.25"/><circle cx="276.3" cy="271.1" r="1.25"/><circle cx="277.7" cy="268.7" r="1.25"/><circle cx="277.0" cy="270.3" r="1.25"/><circle cx="277.4" cy="270.3" r="1.25"/><circle cx="274.5" cy="272.8" r="1.25"/><circle cx="274.9" cy="271.7" r="1.25"/><circle cx="277.6" cy="269.2" r="1.25"/><circle cx="276.9" cy="270.0" r="1.25"/><circle cx="274.7" cy="269.1" r="1.25"/><circle cx="278.2" cy="269.8" r="1.25"/><circle cx="276.0" cy="270.5" r="1.25"/><circle cx="273.7" cy="271.8" r="1.25"/></g><g fill="#00ff00"><circle cx="294.4" cy="199.1" r="1.25"/><circle cx="294.4" cy="204.1" r="1.25"/><circle cx="294.4" cy="222.4" r="1.25"/><circle cx="294.4" cy="233.0" r="1.25"/><circle cx="292.2" cy="236.7" r="1.25"/><circle cx="296.4" cy="237.1" r="1.25"/><circle cx="294.4" cy="238.4" r="1.25"/><circle cx="294.1" cy="242.1" r="1.25"/><circle cx="295.6" cy="242.8" r="1.25"/><circle cx="296.2" cy="244.3" r="1.25"/><circle cx="295.0" cy="245.9" r="1.25"/><circle cx="292.6" cy="246.9" r="1.25"/><circle cx="297.1" cy="247.5" r="1.25"/><circle cx="291.3" cy="248.8" r="1.25"/><circle cx="293.4" cy="251.2" r="1.25"/><circle cx="289.1" cy="253.9" r="1.25"/><circle cx="297.1" cy="254.2" r="1.25"/><circle cx="292.2" cy="256.1" r="1.25"/><circle cx="295.0" cy="256.1" r="1.25"/><circle cx="298.3" cy="256.5" r="1.25"/><circle cx="287.1" cy="258.6" r="1.25"/><circle cx="290.1" cy="258.2" r="1.25"/><circle cx="293.4" cy="258.2" r="1.25"/><circle cx="296.7" cy="258.6" r="1.25"/><circle cx="299.9" cy="258.2" r="1.25"/><circle cx="288.1" cy="260.6" r="1.25"/><circle cx="291.3" cy="260.6" r="1.25"/><circle cx="294.6" cy="260.2" r="1.25"/><circle cx="297.9" cy="260.6" r="1.25"/><circle cx="300.7" cy="260.2" r="1.25"/><circle cx="289.7" cy="262.7" r="1.25"/><circle cx="293.0" cy="262.7" r="1.25"/><circle cx="296.2" cy="262.2" r="1.25"/><circle cx="299.1" cy="262.7" r="1.25"/><circle cx="289.3" cy="264.7" r="1.25"/><circle cx="292.2" cy="264.7" r="1.25"/><circle cx="301.6" cy="263.5" r="1.25"/><circle cx="299.5" cy="265.1" r="1.25"/><circle cx="294.2" cy="266.3" r="1.25"/><circle cx="296.7" cy="266.7" r="1.25"/><circle cx="293.0" cy="268.4" r="1.25"/><circle cx="295.4" cy="268.8" r="1.25"/><circle cx="291.3" cy="270.0" r="1.25"/><circle cx="297.5" cy="270.0" r="1.25"/><circle cx="293.8" cy="270.8" r="1.25"/><circle cx="296.7" cy="271.6" r="1.25"/><circle cx="290.5" cy="272.5" r="1.25"/><circle cx="298.3" cy="272.1" r="1.25"/><circle cx="297.2" cy="262.6" r="1.25"/><circle cx="292.6" cy="257.6" r="1.25"/><circle cx="292.5" cy="261.5" r="1.25"/><circle cx="296.2" cy="259.0" r="1.25"/><circle cx="294.6" cy="257.2" r="1.25"/><circle cx="299.3" cy="259.5" r="1.25"/><circle cx="294.4" cy="261.9" r="1.25"/><circle cx="290.7" cy="261.4" r="1.25"/><circle cx="292.5" cy="262.1" r="1.25"/><circle cx="289.4" cy="258.1" r="1.25"/><circle cx="295.9" cy="259.6" r="1.25"/><circle cx="292.8" cy="260.3" r="1.25"/><circle cx="290.9" cy="259.3" r="1.25"/><circle cx="288.3" cy="262.0" r="1.25"/><circle cx="291.3" cy="262.2" r="1.25"/><circle cx="295.8" cy="256.9" r="1.25"/><circle cx="297.6" cy="258.2" r="1.25"/><circle cx="298.7" cy="261.9" r="1.25"/><circle cx="293.5" cy="261.1" r="1.25"/><circle cx="299.7" cy="257.4" r="1.25"/></g><g fill="#0000ff"><circle cx="313.8" cy="229.7" r="1.25"/><circle cx="311.3" cy="234.4" r="1.25"/><circle cx="312.6" cy="241.3" r="1.25"/><circle cx="311.3" cy="243.4" r="1.25"/><circle cx="308.9" cy="247.6" r="1.25"/><circle cx="314.2" cy="250.1" r="1.25"/><circle cx="316.7" cy="250.4" r="1.25"/><circle cx="316.1" cy="252.9" r="1.25"/><circle cx="311.5" cy="255.1" r="1.25"/><circle cx="309.2" cy="255.8" r="1.25"/><circle cx="313.8" cy="258.6" r="1.25"/><circle cx="310.2" cy="259.6" r="1.25"/><circle cx="317.7" cy="261.1" r="1.25"/><circle cx="307.9" cy="262.6" r="1.25"/><circle cx="315.2" cy="263.0" r="1.25"/><circle cx="312.7" cy="263.9" r="1.25"/><circle cx="318.9" cy="266.5" r="1.25"/><circle cx="306.4" cy="268.4" r="1.25"/><circle cx="316.5" cy="269.6" r="1.25"/><circle cx="311.5" cy="270.5" r="1.25"/><circle cx="313.8" cy="271.2" r="1.25"/><circle cx="308.9" cy="272.7" r="1.25"/><circle cx="313.8" cy="274.7" r="1.25"/><circle cx="311.5" cy="275.5" r="1.25"/></g><g fill="#00ffff"><circle cx="330.9" cy="182.3" r="1.25"/><circle cx="333.3" cy="230.0" r="1.25"/><circle cx="328.4" cy="231.9" r="1.25"/><circle cx="326.1" cy="239.9" r="1.25"/><circle cx="330.9" cy="241.3" r="1.25"/><circle cx="335.7" cy="241.1" r="1.25"/><circle cx="330.9" cy="247.3" r="1.25"/><circle cx="326.1" cy="249.2" r="1.25"/><circle cx="326.1" cy="251.7" r="1.25"/><circle cx="335.7" cy="251.1" r="1.25"/><circle cx="335.7" cy="254.0" r="1.25"/><circle cx="330.9" cy="255.8" r="1.25"/><circle cx="335.7" cy="259.0" r="1.25"/><circle cx="326.1" cy="263.0" r="1.25"/><circle cx="330.9" cy="263.4" r="1.25"/><circle cx="335.7" cy="270.8" r="1.25"/><circle cx="326.1" cy="272.0" r="1.25"/><circle cx="330.9" cy="272.0" r="1.25"/><circle cx="330.9" cy="275.9" r="1.25"/></g><g fill="#ff00ff"><circle cx="349.3" cy="236.7" r="1.25"/><circle cx="349.3" cy="249.6" r="1.25"/><circle cx="349.3" cy="258.0" r="1.25"/><circle cx="348.0" cy="258.8" r="1.25"/><circle cx="349.3" cy="261.7" r="1.25"/><circle cx="350.5" cy="265.5" r="1.25"/><circle cx="348.0" cy="268.4" r="1.25"/><circle cx="352.8" cy="268.4" r="1.25"/><circle cx="345.3" cy="269.6" r="1.25"/><circle cx="350.3" cy="271.4" r="1.25"/><circle cx="346.8" cy="271.8" r="1.25"/><circle cx="356.2" cy="272.4" r="1.25"/><circle cx="354.7" cy="273.3" r="1.25"/><circle cx="349.0" cy="273.4" r="1.25"/><circle cx="350.0" cy="274.3" r="1.25"/><circle cx="344.6" cy="272.4" r="1.25"/></g><g fill="#ffff00"><circle cx="367.5" cy="207.0" r="1.25"/><circle cx="367.5" cy="220.6" r="1.25"/><circle cx="368.7" cy="227.1" r="1.25"/><circle cx="366.3" cy="228.7" r="1.25"/><circle cx="368.7" cy="234.0" r="1.25"/><circle cx="370.0" cy="239.3" r="1.25"/><circle cx="367.9" cy="240.0" r="1.25"/><circle cx="365.3" cy="241.1" r="1.25"/><circle cx="370.0" cy="251.7" r="1.25"/><circle cx="365.3" cy="257.6" r="1.25"/><circle cx="367.5" cy="257.6" r="1.25"/><circle cx="368.7" cy="262.6" r="1.25"/><circle cx="366.3" cy="265.9" r="1.25"/><circle cx="373.5" cy="266.1" r="1.25"/><circle cx="361.6" cy="267.4" r="1.25"/><circle cx="366.3" cy="269.6" r="1.25"/><circle cx="368.7" cy="270.9" r="1.25"/><circle cx="364.1" cy="272.2" r="1.25"/><circle cx="371.2" cy="272.4" r="1.25"/></g><g fill="#808000"><circle cx="385.8" cy="233.4" r="1.25"/><circle cx="389.6" cy="244.0" r="1.25"/><circle cx="385.8" cy="247.0" r="1.25"/><circle cx="382.3" cy="248.8" r="1.25"/><circle cx="385.8" cy="257.6" r="1.25"/><circle cx="384.2" cy="261.1" r="1.25"/><circle cx="387.9" cy="266.1" r="1.25"/><circle cx="391.5" cy="268.0" r="1.25"/><circle cx="380.4" cy="271.2" r="1.25"/><circle cx="384.2" cy="270.1" r="1.25"/><circle cx="387.9" cy="270.1" r="1.25"/><circle cx="387.9" cy="274.3" r="1.25"/><circle cx="384.2" cy="276.2" r="1.25"/></g><g fill="#000080"><circle cx="404.3" cy="218.5" r="1.25"/><circle cx="404.3" cy="224.8" r="1.25"/><circle cx="404.3" cy="236.1" r="1.25"/><circle cx="399.9" cy="237.8" r="1.25"/><circle cx="403.0" cy="238.8" r="1.25"/><circle cx="408.7" cy="240.3" r="1.25"/><circle cx="405.9" cy="240.9" r="1.25"/><circle cx="404.3" cy="244.0" r="1.25"/><circle cx="398.4" cy="253.8" r="1.25"/><circle cx="410.2" cy="253.6" r="1.25"/><circle cx="407.4" cy="255.1" r="1.25"/><circle cx="401.8" cy="257.6" r="1.25"/><circle cx="404.3" cy="257.6" r="1.25"/><circle cx="401.8" cy="261.1" r="1.25"/><circle cx="404.3" cy="262.4" r="1.25"/><circle cx="407.4" cy="265.1" r="1.25"/><circle cx="410.2" cy="267.4" r="1.25"/><circle cx="407.4" cy="268.6" r="1.25"/><circle cx="398.4" cy="271.8" r="1.25"/><circle cx="401.8" cy="272.2" r="1.25"/><circle cx="404.3" cy="272.2" r="1.25"/><circle cx="403.0" cy="274.3" r="1.25"/><circle cx="401.8" cy="275.2" r="1.25"/><circle cx="404.3" cy="275.2" r="1.25"/><circle cx="407.4" cy="273.9" r="1.25"/></g><g fill="#800080"><circle cx="422.6" cy="231.7" r="1.25"/><circle cx="422.6" cy="242.8" r="1.25"/><circle cx="422.6" cy="176.9" r="1.25"/><circle cx="421.8" cy="247.0" r="1.25"/><circle cx="423.1" cy="248.6" r="1.25"/><circle cx="421.2" cy="252.3" r="1.25"/><circle cx="424.0" cy="252.6" r="1.25"/><circle cx="422.5" cy="254.2" r="1.25"/><circle cx="425.0" cy="259.6" r="1.25"/><circle cx="416.8" cy="260.5" r="1.25"/><circle cx="419.3" cy="260.9" r="1.25"/><circle cx="415.6" cy="262.6" r="1.25"/><circle cx="429.6" cy="262.4" r="1.25"/><circle cx="422.5" cy="262.1" r="1.25"/><circle cx="427.5" cy="263.6" r="1.25"/><circle cx="421.2" cy="265.1" r="1.25"/><circle cx="424.4" cy="265.1" r="1.25"/><circle cx="426.2" cy="265.5" r="1.25"/><circle cx="423.1" cy="267.1" r="1.25"/><circle cx="426.9" cy="268.9" r="1.25"/><circle cx="416.8" cy="269.3" r="1.25"/><circle cx="420.0" cy="268.9" r="1.25"/><circle cx="425.0" cy="269.9" r="1.25"/><circle cx="418.1" cy="270.9" r="1.25"/><circle cx="422.5" cy="271.2" r="1.25"/><circle cx="424.4" cy="271.8" r="1.25"/><circle cx="428.1" cy="273.3" r="1.25"/></g><path d="M476.6 161.8V288.2H640.6M476.6 239.0h-2.6M476.6 223.6h-2.6M476.6 208.1h-2.6M476.6 192.7h-2.6M476.6 177.2h-2.6M476.6 161.8h-2.6M485.3 288.2v2.6M503.6 288.2v2.6M521.9 288.2v2.6M540.2 288.2v2.6M558.5 288.2v2.6M576.8 288.2v2.6M595.1 288.2v2.6M613.4 288.2v2.6M631.7 288.2v2.6" stroke="#333" stroke-width="0.9" fill="none"/><text transform="translate(471.9 241.4) scale(0.926 1)" font-family="Liberation Sans, sans-serif" font-size="8.10" text-anchor="end" fill="#111" stroke="#111" stroke-width="0.20">200</text><text transform="translate(471.9 226.0) scale(0.926 1)" font-family="Liberation Sans, sans-serif" font-size="8.10" text-anchor="end" fill="#111" stroke="#111" stroke-width="0.20">400</text><text transform="translate(471.9 210.5) scale(0.926 1)" font-family="Liberation Sans, sans-serif" font-size="8.10" text-anchor="end" fill="#111" stroke="#111" stroke-width="0.20">600</text><text transform="translate(471.9 195.1) scale(0.926 1)" font-family="Liberation Sans, sans-serif" font-size="8.10" text-anchor="end" fill="#111" stroke="#111" stroke-width="0.20">800</text><text transform="translate(471.9 179.6) scale(0.926 1)" font-family="Liberation Sans, sans-serif" font-size="8.10" text-anchor="end" fill="#111" stroke="#111" stroke-width="0.20">1000</text><text transform="translate(471.9 164.2) scale(0.926 1)" font-family="Liberation Sans, sans-serif" font-size="8.10" text-anchor="end" fill="#111" stroke="#111" stroke-width="0.20">1200</text><text transform="translate(486.2 296.2) rotate(-30.0) scale(0.980 1)" font-family="Liberation Sans, sans-serif" font-size="7.14" text-anchor="end" fill="#222" stroke="#222" stroke-width="0.08">Healthy</text><text transform="translate(504.5 296.2) rotate(-30.0) scale(0.980 1)" font-family="Liberation Sans, sans-serif" font-size="7.14" text-anchor="end" fill="#222" stroke="#222" stroke-width="0.08">NSCLC I</text><text transform="translate(522.8 296.2) rotate(-30.0) scale(0.980 1)" font-family="Liberation Sans, sans-serif" font-size="7.14" text-anchor="end" fill="#222" stroke="#222" stroke-width="0.08">NSCLC II-III</text><text transform="translate(541.1 296.2) rotate(-30.0) scale(0.980 1)" font-family="Liberation Sans, sans-serif" font-size="7.14" text-anchor="end" fill="#222" stroke="#222" stroke-width="0.08">Eso I</text><text transform="translate(559.4 296.2) rotate(-30.0) scale(0.980 1)" font-family="Liberation Sans, sans-serif" font-size="7.14" text-anchor="end" fill="#222" stroke="#222" stroke-width="0.08">Eso II-III</text><text transform="translate(577.7 296.2) rotate(-30.0) scale(0.980 1)" font-family="Liberation Sans, sans-serif" font-size="7.14" text-anchor="end" fill="#222" stroke="#222" stroke-width="0.08">H and N II-III</text><text transform="translate(596.0 296.2) rotate(-30.0) scale(0.980 1)" font-family="Liberation Sans, sans-serif" font-size="7.14" text-anchor="end" fill="#222" stroke="#222" stroke-width="0.08">Breast I</text><text transform="translate(614.3 296.2) rotate(-30.0) scale(0.980 1)" font-family="Liberation Sans, sans-serif" font-size="7.14" text-anchor="end" fill="#222" stroke="#222" stroke-width="0.08">Breast II-III</text><text transform="translate(632.6 296.2) rotate(-30.0) scale(0.980 1)" font-family="Liberation Sans, sans-serif" font-size="7.14" text-anchor="end" fill="#222" stroke="#222" stroke-width="0.08">Prostate</text><text transform="translate(471.9 291.1) scale(0.926 1)" font-family="Liberation Sans, sans-serif" font-size="8.10" text-anchor="end" fill="#111" stroke="#111" stroke-width="0.20">0</text><text transform="translate(471.9 285.9) scale(0.926 1)" font-family="Liberation Sans, sans-serif" font-size="8.10" text-anchor="end" fill="#111" stroke="#111" stroke-width="0.20">10</text><text transform="translate(471.9 280.8) scale(0.926 1)" font-family="Liberation Sans, sans-serif" font-size="8.10" text-anchor="end" fill="#111" stroke="#111" stroke-width="0.20">20</text><text transform="translate(471.9 275.6) scale(0.926 1)" font-family="Liberation Sans, sans-serif" font-size="8.10" text-anchor="end" fill="#111" stroke="#111" stroke-width="0.20">30</text><text transform="translate(471.9 270.4) scale(0.926 1)" font-family="Liberation Sans, sans-serif" font-size="8.10" text-anchor="end" fill="#111" stroke="#111" stroke-width="0.20">40</text><text transform="translate(471.9 265.2) scale(0.926 1)" font-family="Liberation Sans, sans-serif" font-size="8.10" text-anchor="end" fill="#111" stroke="#111" stroke-width="0.20">50</text><text transform="translate(471.9 260.1) scale(0.926 1)" font-family="Liberation Sans, sans-serif" font-size="8.10" text-anchor="end" fill="#111" stroke="#111" stroke-width="0.20">60</text><path d="M476.6 288.2h-2.6M476.6 283.0h-2.6M476.6 277.9h-2.6M476.6 272.7h-2.6M476.6 267.5h-2.6M476.6 262.3h-2.6M476.6 257.2h-2.6M476.6 250.3H640" stroke="#333" stroke-width="0.9" fill="none"/><rect x="474" y="248.3" width="5" height="3.6" fill="#fff"/><path d="M474.3 250.2l4.4 -1.8M474.3 252.3l4.4 -1.8" stroke="#333" stroke-width="0.7" fill="none"/><text transform="translate(450.4 230.2) rotate(-90.0) scale(0.926 1)" font-family="Liberation Sans, sans-serif" font-size="10.26" text-anchor="middle" fill="#111" stroke="#111" stroke-width="0.20">sEVs Count</text><clipPath id="ce"><rect x="476.9" y="240" width="30" height="48.1"/></clipPath><g clip-path="url(#ce)"><g fill="#ff0000"><circle cx="481.1" cy="248.2" r="1.25"/><circle cx="482.8" cy="248.0" r="1.25"/><circle cx="485.5" cy="248.4" r="1.25"/><circle cx="479.1" cy="266.9" r="1.25"/><circle cx="479.8" cy="260.2" r="1.25"/><circle cx="480.4" cy="269.1" r="1.25"/><circle cx="484.2" cy="270.1" r="1.25"/><circle cx="478.2" cy="279.4" r="1.25"/><circle cx="486.1" cy="271.3" r="1.25"/><circle cx="480.9" cy="279.9" r="1.25"/><circle cx="482.2" cy="278.0" r="1.25"/><circle cx="481.0" cy="272.6" r="1.25"/><circle cx="487.3" cy="265.5" r="1.25"/><circle cx="478.6" cy="275.0" r="1.25"/><circle cx="488.6" cy="256.0" r="1.25"/><circle cx="483.2" cy="280.2" r="1.25"/><circle cx="488.1" cy="279.9" r="1.25"/><circle cx="489.0" cy="266.9" r="1.25"/><circle cx="484.2" cy="279.5" r="1.25"/><circle cx="483.7" cy="283.8" r="1.25"/><circle cx="483.7" cy="275.7" r="1.25"/><circle cx="486.0" cy="268.6" r="1.25"/><circle cx="490.8" cy="286.8" r="1.25"/><circle cx="487.1" cy="282.1" r="1.25"/><circle cx="488.3" cy="278.0" r="1.25"/><circle cx="480.7" cy="275.0" r="1.25"/><circle cx="487.5" cy="275.6" r="1.25"/><circle cx="477.9" cy="267.9" r="1.25"/><circle cx="487.7" cy="262.5" r="1.25"/><circle cx="485.8" cy="280.8" r="1.25"/><circle cx="479.3" cy="278.1" r="1.25"/><circle cx="478.6" cy="285.4" r="1.25"/><circle cx="478.0" cy="277.9" r="1.25"/><circle cx="485.4" cy="263.0" r="1.25"/><circle cx="484.1" cy="260.4" r="1.25"/><circle cx="480.6" cy="267.9" r="1.25"/><circle cx="484.0" cy="285.4" r="1.25"/><circle cx="491.3" cy="263.1" r="1.25"/><circle cx="479.2" cy="263.0" r="1.25"/><circle cx="480.5" cy="270.6" r="1.25"/><circle cx="479.7" cy="281.3" r="1.25"/><circle cx="491.8" cy="266.8" r="1.25"/><circle cx="479.1" cy="254.7" r="1.25"/><circle cx="487.2" cy="255.4" r="1.25"/><circle cx="485.2" cy="277.7" r="1.25"/><circle cx="483.2" cy="266.9" r="1.25"/><circle cx="481.7" cy="286.9" r="1.25"/><circle cx="492.6" cy="275.2" r="1.25"/><circle cx="489.7" cy="272.0" r="1.25"/><circle cx="478.8" cy="282.8" r="1.25"/><circle cx="479.2" cy="269.1" r="1.25"/><circle cx="487.4" cy="266.6" r="1.25"/><circle cx="485.3" cy="259.0" r="1.25"/><circle cx="489.3" cy="287.3" r="1.25"/><circle cx="484.6" cy="281.9" r="1.25"/><circle cx="481.2" cy="278.5" r="1.25"/><circle cx="488.3" cy="285.4" r="1.25"/><circle cx="490.1" cy="283.4" r="1.25"/><circle cx="489.6" cy="282.1" r="1.25"/><circle cx="490.3" cy="276.0" r="1.25"/><circle cx="481.0" cy="282.2" r="1.25"/><circle cx="482.5" cy="282.3" r="1.25"/><circle cx="477.8" cy="282.7" r="1.25"/><circle cx="488.2" cy="272.9" r="1.25"/><circle cx="492.2" cy="265.5" r="1.25"/><circle cx="489.7" cy="276.9" r="1.25"/><circle cx="489.3" cy="274.5" r="1.25"/><circle cx="486.6" cy="284.9" r="1.25"/><circle cx="482.5" cy="285.1" r="1.25"/><circle cx="491.7" cy="279.8" r="1.25"/><circle cx="484.3" cy="268.7" r="1.25"/><circle cx="482.4" cy="256.3" r="1.25"/><circle cx="481.3" cy="276.5" r="1.25"/><circle cx="485.0" cy="264.2" r="1.25"/><circle cx="492.6" cy="268.1" r="1.25"/><circle cx="480.2" cy="286.6" r="1.25"/><circle cx="477.9" cy="269.3" r="1.25"/><circle cx="485.0" cy="266.3" r="1.25"/><circle cx="488.1" cy="286.4" r="1.25"/><circle cx="490.2" cy="273.0" r="1.25"/><circle cx="481.5" cy="274.2" r="1.25"/><circle cx="478.6" cy="271.5" r="1.25"/><circle cx="483.2" cy="269.7" r="1.25"/><circle cx="479.3" cy="273.5" r="1.25"/><circle cx="489.0" cy="254.0" r="1.25"/><circle cx="483.3" cy="262.8" r="1.25"/><circle cx="482.6" cy="271.5" r="1.25"/><circle cx="491.5" cy="272.3" r="1.25"/><circle cx="484.8" cy="274.7" r="1.25"/><circle cx="487.3" cy="280.6" r="1.25"/><circle cx="488.2" cy="271.0" r="1.25"/><circle cx="486.7" cy="263.9" r="1.25"/><circle cx="483.4" cy="264.6" r="1.25"/><circle cx="491.6" cy="258.1" r="1.25"/><circle cx="485.2" cy="257.4" r="1.25"/><circle cx="480.9" cy="285.5" r="1.25"/><circle cx="490.6" cy="281.5" r="1.25"/><circle cx="489.3" cy="279.4" r="1.25"/><circle cx="489.2" cy="268.8" r="1.25"/><circle cx="482.7" cy="260.9" r="1.25"/><circle cx="489.4" cy="271.1" r="1.25"/><circle cx="487.1" cy="278.5" r="1.25"/><circle cx="491.4" cy="275.6" r="1.25"/><circle cx="482.2" cy="270.5" r="1.25"/><circle cx="481.9" cy="268.1" r="1.25"/><circle cx="491.3" cy="284.3" r="1.25"/><circle cx="489.6" cy="278.1" r="1.25"/><circle cx="478.9" cy="286.8" r="1.25"/><circle cx="480.9" cy="265.6" r="1.25"/><circle cx="486.2" cy="283.7" r="1.25"/><circle cx="485.4" cy="272.9" r="1.25"/><circle cx="484.3" cy="287.0" r="1.25"/><circle cx="480.0" cy="264.6" r="1.25"/><circle cx="490.9" cy="260.7" r="1.25"/><circle cx="487.6" cy="276.7" r="1.25"/><circle cx="485.9" cy="275.4" r="1.25"/><circle cx="483.5" cy="272.2" r="1.25"/><circle cx="488.4" cy="264.7" r="1.25"/><circle cx="482.3" cy="259.7" r="1.25"/><circle cx="477.6" cy="261.5" r="1.25"/><circle cx="487.1" cy="268.0" r="1.25"/><circle cx="480.6" cy="263.3" r="1.25"/><circle cx="481.7" cy="283.5" r="1.25"/><circle cx="484.3" cy="263.1" r="1.25"/><circle cx="490.9" cy="273.8" r="1.25"/><circle cx="480.4" cy="277.4" r="1.25"/><circle cx="482.8" cy="286.4" r="1.25"/><circle cx="491.7" cy="256.5" r="1.25"/><circle cx="482.4" cy="276.5" r="1.25"/><circle cx="491.8" cy="286.1" r="1.25"/><circle cx="478.8" cy="277.2" r="1.25"/><circle cx="484.2" cy="273.3" r="1.25"/><circle cx="485.3" cy="270.4" r="1.25"/><circle cx="483.9" cy="253.6" r="1.25"/><circle cx="490.8" cy="277.0" r="1.25"/><circle cx="486.5" cy="279.7" r="1.25"/><circle cx="483.9" cy="267.6" r="1.25"/><circle cx="479.0" cy="253.0" r="1.25"/></g></g><g fill="#00ff00"><circle cx="502.0" cy="209.2" r="1.25"/><circle cx="503.8" cy="215.5" r="1.25"/><circle cx="501.6" cy="217.3" r="1.25"/><circle cx="505.5" cy="216.8" r="1.25"/><circle cx="503.9" cy="219.0" r="1.25"/><circle cx="502.5" cy="223.6" r="1.25"/><circle cx="507.6" cy="223.9" r="1.25"/><circle cx="498.9" cy="226.9" r="1.25"/><circle cx="505.4" cy="226.4" r="1.25"/><circle cx="503.2" cy="228.1" r="1.25"/><circle cx="504.8" cy="231.1" r="1.25"/><circle cx="500.4" cy="231.7" r="1.25"/><circle cx="507.7" cy="233.3" r="1.25"/><circle cx="502.2" cy="233.9" r="1.25"/><circle cx="499.2" cy="234.2" r="1.25"/><circle cx="504.1" cy="234.9" r="1.25"/><circle cx="501.6" cy="236.6" r="1.25"/><circle cx="506.4" cy="237.0" r="1.25"/><circle cx="503.0" cy="237.8" r="1.25"/><circle cx="499.2" cy="239.0" r="1.25"/><circle cx="504.5" cy="238.8" r="1.25"/><circle cx="508.0" cy="239.8" r="1.25"/><circle cx="496.7" cy="241.0" r="1.25"/><circle cx="501.3" cy="240.9" r="1.25"/><circle cx="505.6" cy="241.2" r="1.25"/><circle cx="509.8" cy="240.2" r="1.25"/><circle cx="499.1" cy="242.0" r="1.25"/><circle cx="503.6" cy="242.8" r="1.25"/><circle cx="507.5" cy="242.8" r="1.25"/><circle cx="496.1" cy="242.9" r="1.25"/><circle cx="500.9" cy="244.1" r="1.25"/><circle cx="505.0" cy="243.9" r="1.25"/><circle cx="509.9" cy="244.0" r="1.25"/><circle cx="498.0" cy="244.8" r="1.25"/><circle cx="502.7" cy="245.8" r="1.25"/><circle cx="507.0" cy="245.0" r="1.25"/><circle cx="500.2" cy="246.9" r="1.25"/><circle cx="504.8" cy="246.5" r="1.25"/><circle cx="508.7" cy="246.4" r="1.25"/><circle cx="501.7" cy="247.7" r="1.25"/><circle cx="506.2" cy="247.5" r="1.25"/><circle cx="510.6" cy="247.4" r="1.25"/><circle cx="503.2" cy="246.1" r="1.25"/><circle cx="503.5" cy="173.7" r="1.25"/><circle cx="503.3" cy="240.6" r="1.25"/><circle cx="506.6" cy="240.5" r="1.25"/><circle cx="502.5" cy="246.4" r="1.25"/><circle cx="504.0" cy="247.5" r="1.25"/><circle cx="502.1" cy="244.1" r="1.25"/><circle cx="500.1" cy="238.5" r="1.25"/><circle cx="501.6" cy="246.2" r="1.25"/><circle cx="503.1" cy="244.3" r="1.25"/><circle cx="500.1" cy="242.2" r="1.25"/><circle cx="502.2" cy="236.7" r="1.25"/><circle cx="504.2" cy="244.1" r="1.25"/></g><g fill="#0000ff"><circle cx="521.9" cy="194.8" r="1.25"/><circle cx="522.5" cy="211.1" r="1.25"/><circle cx="521.2" cy="223.5" r="1.25"/><circle cx="525.9" cy="224.1" r="1.25"/><circle cx="523.4" cy="227.3" r="1.25"/><circle cx="519.6" cy="229.3" r="1.25"/><circle cx="521.5" cy="229.5" r="1.25"/><circle cx="515.2" cy="231.2" r="1.25"/><circle cx="524.6" cy="232.1" r="1.25"/><circle cx="516.5" cy="233.1" r="1.25"/><circle cx="517.7" cy="234.6" r="1.25"/><circle cx="528.8" cy="238.6" r="1.25"/><circle cx="520.5" cy="239.8" r="1.25"/><circle cx="527.1" cy="239.3" r="1.25"/><circle cx="524.6" cy="242.5" r="1.25"/><circle cx="522.7" cy="243.4" r="1.25"/><circle cx="516.5" cy="244.2" r="1.25"/><circle cx="515.2" cy="245.6" r="1.25"/><circle cx="525.9" cy="245.2" r="1.25"/><circle cx="528.4" cy="246.2" r="1.25"/><circle cx="527.1" cy="246.7" r="1.25"/><circle cx="518.3" cy="248.6" r="1.25"/></g><g fill="#00ffff"><circle cx="537.8" cy="220.8" r="1.25"/><circle cx="540.3" cy="223.6" r="1.25"/><circle cx="542.8" cy="223.6" r="1.25"/><circle cx="537.8" cy="230.8" r="1.25"/><circle cx="540.3" cy="236.5" r="1.25"/><circle cx="542.8" cy="238.7" r="1.25"/><circle cx="535.9" cy="239.3" r="1.25"/><circle cx="537.8" cy="240.0" r="1.25"/><circle cx="541.6" cy="240.0" r="1.25"/><circle cx="539.4" cy="240.6" r="1.25"/><circle cx="534.0" cy="245.2" r="1.25"/><circle cx="546.3" cy="245.9" r="1.25"/><circle cx="544.1" cy="247.8" r="1.25"/><circle cx="540.2" cy="172.6" r="1.25"/></g><g fill="#ff00ff"><circle cx="558.6" cy="218.5" r="1.25"/><circle cx="561.1" cy="224.5" r="1.25"/><circle cx="557.6" cy="234.9" r="1.25"/><circle cx="559.8" cy="234.9" r="1.25"/><circle cx="556.3" cy="236.5" r="1.25"/><circle cx="558.6" cy="236.7" r="1.25"/><circle cx="560.7" cy="240.2" r="1.25"/><circle cx="551.9" cy="242.7" r="1.25"/><circle cx="554.4" cy="242.1" r="1.25"/><circle cx="556.3" cy="243.4" r="1.25"/><circle cx="555.1" cy="245.0" r="1.25"/><circle cx="563.9" cy="243.7" r="1.25"/><circle cx="559.5" cy="245.9" r="1.25"/><circle cx="562.6" cy="246.2" r="1.25"/><circle cx="565.1" cy="246.5" r="1.25"/><circle cx="558.8" cy="247.8" r="1.25"/><circle cx="553.2" cy="248.6" r="1.25"/><circle cx="557.6" cy="248.8" r="1.25"/><circle cx="558.3" cy="170.7" r="1.25"/></g><g fill="#ffff00"><circle cx="576.9" cy="213.2" r="1.25"/><circle cx="578.3" cy="224.1" r="1.25"/><circle cx="573.9" cy="227.0" r="1.25"/><circle cx="572.4" cy="230.4" r="1.25"/><circle cx="575.4" cy="230.4" r="1.25"/><circle cx="581.2" cy="232.7" r="1.25"/><circle cx="582.7" cy="233.9" r="1.25"/><circle cx="570.8" cy="238.1" r="1.25"/><circle cx="576.9" cy="238.3" r="1.25"/><circle cx="579.9" cy="239.2" r="1.25"/><circle cx="583.3" cy="245.0" r="1.25"/><circle cx="574.5" cy="245.2" r="1.25"/><circle cx="577.7" cy="245.9" r="1.25"/><circle cx="572.0" cy="246.7" r="1.25"/><circle cx="580.8" cy="246.5" r="1.25"/><circle cx="570.1" cy="247.5" r="1.25"/><circle cx="573.9" cy="248.0" r="1.25"/><circle cx="576.4" cy="248.4" r="1.25"/><circle cx="579.2" cy="248.0" r="1.25"/><circle cx="582.1" cy="247.1" r="1.25"/><circle cx="575.4" cy="247.1" r="1.25"/></g><g fill="#808000"><circle cx="595.2" cy="221.4" r="1.25"/><circle cx="593.1" cy="232.3" r="1.25"/><circle cx="597.1" cy="232.1" r="1.25"/><circle cx="599.3" cy="233.7" r="1.25"/><circle cx="590.8" cy="237.5" r="1.25"/><circle cx="595.2" cy="238.0" r="1.25"/><circle cx="590.8" cy="240.5" r="1.25"/><circle cx="595.2" cy="239.8" r="1.25"/><circle cx="599.3" cy="240.2" r="1.25"/><circle cx="589.0" cy="244.6" r="1.25"/><circle cx="593.1" cy="244.2" r="1.25"/><circle cx="597.1" cy="245.0" r="1.25"/><circle cx="601.3" cy="247.1" r="1.25"/></g><g fill="#000080"><circle cx="613.4" cy="201.9" r="1.25"/><circle cx="614.1" cy="217.9" r="1.25"/><circle cx="612.8" cy="219.8" r="1.25"/><circle cx="610.3" cy="223.9" r="1.25"/><circle cx="611.3" cy="229.2" r="1.25"/><circle cx="615.3" cy="228.3" r="1.25"/><circle cx="614.4" cy="233.3" r="1.25"/><circle cx="616.6" cy="236.7" r="1.25"/><circle cx="612.8" cy="238.1" r="1.25"/><circle cx="606.5" cy="240.2" r="1.25"/><circle cx="609.7" cy="240.0" r="1.25"/><circle cx="619.1" cy="240.0" r="1.25"/><circle cx="618.5" cy="242.7" r="1.25"/><circle cx="616.0" cy="244.9" r="1.25"/><circle cx="612.2" cy="244.9" r="1.25"/><circle cx="609.1" cy="246.1" r="1.25"/><circle cx="607.2" cy="247.1" r="1.25"/><circle cx="610.9" cy="246.5" r="1.25"/><circle cx="614.1" cy="246.2" r="1.25"/><circle cx="617.2" cy="246.5" r="1.25"/><circle cx="620.4" cy="246.7" r="1.25"/><circle cx="612.8" cy="247.8" r="1.25"/><circle cx="614.8" cy="275.4" r="1.25"/></g><g fill="#800080"><circle cx="632.6" cy="220.1" r="1.25"/><circle cx="631.4" cy="222.0" r="1.25"/><circle cx="633.9" cy="224.8" r="1.25"/><circle cx="629.8" cy="230.8" r="1.25"/><circle cx="631.4" cy="232.1" r="1.25"/><circle cx="632.3" cy="234.6" r="1.25"/><circle cx="630.4" cy="236.5" r="1.25"/><circle cx="632.9" cy="239.0" r="1.25"/><circle cx="636.7" cy="239.8" r="1.25"/><circle cx="630.4" cy="240.2" r="1.25"/><circle cx="628.5" cy="241.7" r="1.25"/><circle cx="634.8" cy="241.5" r="1.25"/><circle cx="627.2" cy="243.4" r="1.25"/><circle cx="632.3" cy="242.7" r="1.25"/><circle cx="636.0" cy="244.0" r="1.25"/><circle cx="626.0" cy="245.2" r="1.25"/><circle cx="629.1" cy="244.6" r="1.25"/><circle cx="637.9" cy="245.2" r="1.25"/><circle cx="624.7" cy="246.7" r="1.25"/><circle cx="631.6" cy="246.5" r="1.25"/><circle cx="634.8" cy="245.9" r="1.25"/><circle cx="638.5" cy="247.5" r="1.25"/><circle cx="635.4" cy="248.4" r="1.25"/></g><path d="M59.1 344.3V470.3H223.2M59.1 461.3h-2.6M59.1 443.3h-2.6M59.1 425.4h-2.6M59.1 407.4h-2.6M59.1 389.4h-2.6M59.1 371.5h-2.6M59.1 353.5h-2.6M68.5 470.3v2.6M86.8 470.3v2.6M105.0 470.3v2.6M123.2 470.3v2.6M141.5 470.3v2.6M159.8 470.3v2.6M178.0 470.3v2.6M196.2 470.3v2.6M214.5 470.3v2.6" stroke="#333" stroke-width="0.9" fill="none"/><text transform="translate(54.6 463.7) scale(0.926 1)" font-family="Liberation Sans, sans-serif" font-size="8.10" text-anchor="end" fill="#111" stroke="#111" stroke-width="0.20">0</text><text transform="translate(54.6 445.7) scale(0.926 1)" font-family="Liberation Sans, sans-serif" font-size="8.10" text-anchor="end" fill="#111" stroke="#111" stroke-width="0.20">10</text><text transform="translate(54.6 427.8) scale(0.926 1)" font-family="Liberation Sans, sans-serif" font-size="8.10" text-anchor="end" fill="#111" stroke="#111" stroke-width="0.20">20</text><text transform="translate(54.6 409.8) scale(0.926 1)" font-family="Liberation Sans, sans-serif" font-size="8.10" text-anchor="end" fill="#111" stroke="#111" stroke-width="0.20">30</text><text transform="translate(54.6 391.8) scale(0.926 1)" font-family="Liberation Sans, sans-serif" font-size="8.10" text-anchor="end" fill="#111" stroke="#111" stroke-width="0.20">40</text><text transform="translate(54.6 373.9) scale(0.926 1)" font-family="Liberation Sans, sans-serif" font-size="8.10" text-anchor="end" fill="#111" stroke="#111" stroke-width="0.20">50</text><text transform="translate(54.6 355.9) scale(0.926 1)" font-family="Liberation Sans, sans-serif" font-size="8.10" text-anchor="end" fill="#111" stroke="#111" stroke-width="0.20">60</text><text transform="translate(78.0 480.9) rotate(-27.5) scale(0.980 1)" font-family="Liberation Sans, sans-serif" font-size="7.85" text-anchor="end" fill="#222" stroke="#222" stroke-width="0.15">Healthy (0%)</text><text transform="translate(96.2 480.9) rotate(-27.5) scale(0.980 1)" font-family="Liberation Sans, sans-serif" font-size="7.85" text-anchor="end" fill="#222" stroke="#222" stroke-width="0.15">NSCLC (I; 12%)</text><text transform="translate(114.5 480.9) rotate(-27.5) scale(0.980 1)" font-family="Liberation Sans, sans-serif" font-size="7.85" text-anchor="end" fill="#222" stroke="#222" stroke-width="0.15">NSCLC (II-III; 54%)</text><text transform="translate(132.8 480.9) rotate(-27.5) scale(0.980 1)" font-family="Liberation Sans, sans-serif" font-size="7.85" text-anchor="end" fill="#222" stroke="#222" stroke-width="0.15">Eso (I; 0%)</text><text transform="translate(151.0 480.9) rotate(-27.5) scale(0.980 1)" font-family="Liberation Sans, sans-serif" font-size="7.85" text-anchor="end" fill="#222" stroke="#222" stroke-width="0.15">Eso (II-III; 5%)</text><text transform="translate(169.2 480.9) rotate(-27.5) scale(0.980 1)" font-family="Liberation Sans, sans-serif" font-size="7.85" text-anchor="end" fill="#222" stroke="#222" stroke-width="0.15">H and N &#160;(II-II; 20%)</text><text transform="translate(187.5 480.9) rotate(-27.5) scale(0.980 1)" font-family="Liberation Sans, sans-serif" font-size="7.85" text-anchor="end" fill="#222" stroke="#222" stroke-width="0.15">Breast (I; 38%)</text><text transform="translate(205.8 480.9) rotate(-27.5) scale(0.980 1)" font-family="Liberation Sans, sans-serif" font-size="7.85" text-anchor="end" fill="#222" stroke="#222" stroke-width="0.15">Breast (II-III; 54%)</text><text transform="translate(224.0 480.9) rotate(-27.5) scale(0.980 1)" font-family="Liberation Sans, sans-serif" font-size="7.85" text-anchor="end" fill="#222" stroke="#222" stroke-width="0.15">Prostate (59%)</text><text transform="translate(39.3 412.3) rotate(-90.0) scale(0.926 1)" font-family="Liberation Sans, sans-serif" font-size="10.53" text-anchor="middle" fill="#111" stroke="#111" stroke-width="0.20">MIR-21 Occurrence (%)</text><path d="M61.2 461.4H75.5" stroke="#ff0000" stroke-width="2.4" stroke-linecap="round" fill="none"/><path d="M79.5 461.4H93.8" stroke="#00ff00" stroke-width="2.4" stroke-linecap="round" fill="none"/><path d="M97.7 461.4H112.0" stroke="#0000ff" stroke-width="2.4" stroke-linecap="round" fill="none"/><path d="M116.0 461.4H130.2" stroke="#00ffff" stroke-width="2.4" stroke-linecap="round" fill="none"/><path d="M134.2 461.4H148.5" stroke="#ff00ff" stroke-width="2.4" stroke-linecap="round" fill="none"/><path d="M152.4 461.4H166.8" stroke="#ffff00" stroke-width="2.4" stroke-linecap="round" fill="none"/><path d="M170.7 461.4H185.0" stroke="#808000" stroke-width="2.4" stroke-linecap="round" fill="none" stroke-dasharray="0 1.83"/><path d="M188.9 461.4H203.2" stroke="#000080" stroke-width="2.4" stroke-linecap="round" fill="none"/><path d="M207.2 461.4H221.5" stroke="#800080" stroke-width="2.4" stroke-linecap="round" fill="none"/><g fill="#00ff00"><circle cx="86.5" cy="405.6" r="1.20"/><circle cx="86.8" cy="444.9" r="1.20"/><circle cx="86.3" cy="446.8" r="1.20"/><circle cx="85.1" cy="454.2" r="1.20"/><circle cx="86.3" cy="455.9" r="1.20"/><circle cx="87.4" cy="457.4" r="1.20"/></g><g fill="#0000ff"><circle cx="104.7" cy="407.5" r="1.20"/><circle cx="103.1" cy="430.5" r="1.20"/><circle cx="104.7" cy="431.1" r="1.20"/><circle cx="106.6" cy="432.6" r="1.20"/><circle cx="106.6" cy="437.3" r="1.20"/><circle cx="104.3" cy="439.2" r="1.20"/><circle cx="105.5" cy="439.9" r="1.20"/><circle cx="102.8" cy="442.9" r="1.20"/><circle cx="106.0" cy="447.1" r="1.20"/><circle cx="103.5" cy="449.6" r="1.20"/><circle cx="104.7" cy="451.2" r="1.20"/><circle cx="98.7" cy="454.4" r="1.20"/></g><g fill="#ff00ff"><circle cx="141.4" cy="423.5" r="1.20"/></g><g fill="#ffff00"><circle cx="159.6" cy="440.8" r="1.20"/><circle cx="159.6" cy="447.3" r="1.20"/><circle cx="159.6" cy="456.1" r="1.20"/><circle cx="159.6" cy="394.8" r="1.20"/></g><g fill="#808000"><circle cx="177.9" cy="412.8" r="1.20"/><circle cx="178.2" cy="427.2" r="1.20"/><circle cx="180.1" cy="427.2" r="1.20"/><circle cx="175.9" cy="431.4" r="1.20"/><circle cx="179.1" cy="444.3" r="1.20"/><circle cx="176.9" cy="450.8" r="1.20"/></g><g fill="#000080"><circle cx="196.1" cy="412.8" r="1.20"/><circle cx="196.1" cy="422.0" r="1.20"/><circle cx="197.0" cy="427.6" r="1.20"/><circle cx="195.5" cy="431.4" r="1.20"/><circle cx="198.0" cy="432.9" r="1.20"/><circle cx="194.2" cy="434.3" r="1.20"/><circle cx="195.5" cy="439.9" r="1.20"/><circle cx="196.6" cy="441.7" r="1.20"/><circle cx="195.5" cy="448.3" r="1.20"/><circle cx="196.6" cy="450.6" r="1.20"/><circle cx="190.7" cy="455.9" r="1.20"/><circle cx="196.1" cy="362.4" r="1.20"/><circle cx="196.1" cy="374.9" r="1.20"/></g><g fill="#800080"><circle cx="214.6" cy="416.3" r="1.20"/><circle cx="213.3" cy="419.8" r="1.20"/><circle cx="214.6" cy="421.6" r="1.20"/><circle cx="212.3" cy="423.5" r="1.20"/><circle cx="215.5" cy="425.5" r="1.20"/><circle cx="216.1" cy="429.8" r="1.20"/><circle cx="213.3" cy="430.8" r="1.20"/><circle cx="214.8" cy="430.5" r="1.20"/><circle cx="214.0" cy="434.3" r="1.20"/><circle cx="216.8" cy="434.3" r="1.20"/><circle cx="214.6" cy="441.1" r="1.20"/><circle cx="215.5" cy="448.6" r="1.20"/><circle cx="214.6" cy="449.2" r="1.20"/><circle cx="213.3" cy="452.7" r="1.20"/><circle cx="209.2" cy="454.2" r="1.20"/><circle cx="216.8" cy="456.1" r="1.20"/><circle cx="214.6" cy="351.4" r="1.20"/><circle cx="214.8" cy="394.6" r="1.20"/><circle cx="214.0" cy="398.4" r="1.20"/></g><path d="M262.8 348.9V475.3H427.9M262.8 475.3h-2.6M262.8 446.6h-2.6M262.8 417.9h-2.6M262.8 389.2h-2.6M262.8 360.5h-2.6M290.3 475.3v2.6M345.4 475.3v2.6M400.5 475.3v2.6" stroke="#333" stroke-width="0.9" fill="none"/><text transform="translate(258.2 477.7) scale(0.926 1)" font-family="Liberation Sans, sans-serif" font-size="8.10" text-anchor="end" fill="#111" stroke="#111" stroke-width="0.20">0</text><text transform="translate(258.2 449.0) scale(0.926 1)" font-family="Liberation Sans, sans-serif" font-size="8.10" text-anchor="end" fill="#111" stroke="#111" stroke-width="0.20">50</text><text transform="translate(258.2 420.3) scale(0.926 1)" font-family="Liberation Sans, sans-serif" font-size="8.10" text-anchor="end" fill="#111" stroke="#111" stroke-width="0.20">100</text><text transform="translate(258.2 391.6) scale(0.926 1)" font-family="Liberation Sans, sans-serif" font-size="8.10" text-anchor="end" fill="#111" stroke="#111" stroke-width="0.20">150</text><text transform="translate(258.2 362.9) scale(0.926 1)" font-family="Liberation Sans, sans-serif" font-size="8.10" text-anchor="end" fill="#111" stroke="#111" stroke-width="0.20">200</text><text transform="translate(296.5 482.7) rotate(-15.0) scale(0.980 1)" font-family="Liberation Sans, sans-serif" font-size="8.16" text-anchor="end" fill="#222" stroke="#222" stroke-width="0.15">Healthy</text><text transform="translate(351.6 482.7) rotate(-15.0) scale(0.980 1)" font-family="Liberation Sans, sans-serif" font-size="8.16" text-anchor="end" fill="#222" stroke="#222" stroke-width="0.15">Sarcoma</text><text transform="translate(406.7 482.7) rotate(-15.0) scale(0.980 1)" font-family="Liberation Sans, sans-serif" font-size="8.16" text-anchor="end" fill="#222" stroke="#222" stroke-width="0.15">Cholangiocarcinoma</text><path d="M262.8 435.5H427.5" stroke="#333" stroke-width="0.9" fill="none"/><text transform="translate(240.5 419.2) rotate(-90.0) scale(0.926 1)" font-family="Liberation Sans, sans-serif" font-size="10.04" text-anchor="middle" fill="#111" stroke="#111" stroke-width="0.20">sEVs Count</text><g fill="#ff0000"><circle cx="269.4" cy="452.0" r="1.30"/><circle cx="271.9" cy="450.8" r="1.30"/><circle cx="274.4" cy="444.5" r="1.30"/><circle cx="276.9" cy="443.2" r="1.30"/><circle cx="279.1" cy="444.1" r="1.30"/><circle cx="281.6" cy="439.8" r="1.30"/><circle cx="282.0" cy="442.0" r="1.30"/><circle cx="283.9" cy="441.3" r="1.30"/><circle cx="283.6" cy="443.5" r="1.30"/><circle cx="286.6" cy="438.8" r="1.30"/><circle cx="286.4" cy="444.7" r="1.30"/><circle cx="289.1" cy="440.1" r="1.30"/><circle cx="289.1" cy="443.9" r="1.30"/><circle cx="291.4" cy="437.6" r="1.30"/><circle cx="293.9" cy="441.3" r="1.30"/><circle cx="294.1" cy="446.0" r="1.30"/><circle cx="296.4" cy="441.1" r="1.30"/><circle cx="296.7" cy="446.4" r="1.30"/><circle cx="298.7" cy="440.5" r="1.30"/><circle cx="298.7" cy="447.0" r="1.30"/><circle cx="301.2" cy="443.0" r="1.30"/><circle cx="303.3" cy="446.4" r="1.30"/><circle cx="306.1" cy="444.7" r="1.30"/><circle cx="291.4" cy="450.8" r="1.30"/><circle cx="289.1" cy="456.2" r="1.30"/><circle cx="291.4" cy="455.5" r="1.30"/><circle cx="290.1" cy="465.8" r="1.30"/><circle cx="308.6" cy="452.6" r="1.30"/><circle cx="311.1" cy="452.0" r="1.30"/></g><g fill="#00ff00"><circle cx="345.2" cy="363.6" r="1.30"/><circle cx="345.2" cy="381.5" r="1.30"/><circle cx="352.5" cy="384.9" r="1.30"/><circle cx="345.2" cy="389.1" r="1.30"/><circle cx="337.7" cy="391.2" r="1.30"/><circle cx="345.2" cy="398.7" r="1.30"/><circle cx="337.7" cy="400.4" r="1.30"/><circle cx="352.5" cy="406.9" r="1.30"/><circle cx="356.1" cy="407.3" r="1.30"/><circle cx="363.4" cy="410.0" r="1.30"/><circle cx="334.1" cy="411.9" r="1.30"/><circle cx="341.4" cy="411.3" r="1.30"/><circle cx="326.7" cy="418.2" r="1.30"/><circle cx="348.7" cy="416.3" r="1.30"/><circle cx="341.4" cy="419.2" r="1.30"/><circle cx="348.7" cy="423.2" r="1.30"/><circle cx="356.1" cy="422.2" r="1.30"/><circle cx="334.1" cy="428.6" r="1.30"/><circle cx="348.7" cy="430.1" r="1.30"/><circle cx="341.4" cy="432.6" r="1.30"/></g><g fill="#0000ff"><circle cx="399.9" cy="351.0" r="1.30"/><circle cx="392.7" cy="363.5" r="1.30"/><circle cx="399.9" cy="369.3" r="1.30"/><circle cx="407.2" cy="371.6" r="1.30"/><circle cx="399.9" cy="379.2" r="1.30"/><circle cx="392.7" cy="388.2" r="1.30"/><circle cx="399.9" cy="389.5" r="1.30"/><circle cx="407.2" cy="388.8" r="1.30"/><circle cx="399.9" cy="397.5" r="1.30"/><circle cx="392.7" cy="408.9" r="1.30"/><circle cx="399.9" cy="411.3" r="1.30"/><circle cx="407.2" cy="409.4" r="1.30"/><circle cx="396.2" cy="423.9" r="1.30"/><circle cx="411.0" cy="422.1" r="1.30"/><circle cx="418.4" cy="421.1" r="1.30"/><circle cx="381.6" cy="428.0" r="1.30"/><circle cx="388.9" cy="428.0" r="1.30"/><circle cx="403.5" cy="429.1" r="1.30"/></g><path d="M463.2 345.4V475.3H631.9M463.2 458.8h-2.6M463.2 426.4h-2.6M463.2 394.0h-2.6M463.2 361.6h-2.6M491.5 475.3v2.6M547.5 475.3v2.6M603.7 475.3v2.6" stroke="#333" stroke-width="0.9" fill="none"/><text transform="translate(458.6 461.2) scale(0.926 1)" font-family="Liberation Sans, sans-serif" font-size="8.10" text-anchor="end" fill="#111" stroke="#111" stroke-width="0.20">0</text><text transform="translate(458.6 428.8) scale(0.926 1)" font-family="Liberation Sans, sans-serif" font-size="8.10" text-anchor="end" fill="#111" stroke="#111" stroke-width="0.20">10</text><text transform="translate(458.6 396.4) scale(0.926 1)" font-family="Liberation Sans, sans-serif" font-size="8.10" text-anchor="end" fill="#111" stroke="#111" stroke-width="0.20">20</text><text transform="translate(458.6 364.0) scale(0.926 1)" font-family="Liberation Sans, sans-serif" font-size="8.10" text-anchor="end" fill="#111" stroke="#111" stroke-width="0.20">30</text><text transform="translate(502.2 483.7) rotate(-15.0) scale(0.980 1)" font-family="Liberation Sans, sans-serif" font-size="8.16" text-anchor="end" fill="#222" stroke="#222" stroke-width="0.15">Healthy</text><text transform="translate(558.2 483.7) rotate(-15.0) scale(0.980 1)" font-family="Liberation Sans, sans-serif" font-size="8.16" text-anchor="end" fill="#222" stroke="#222" stroke-width="0.15">Sarcoma</text><text transform="translate(614.4 483.7) rotate(-15.0) scale(0.980 1)" font-family="Liberation Sans, sans-serif" font-size="8.16" text-anchor="end" fill="#222" stroke="#222" stroke-width="0.15">Cholangiocarcinoma</text><text transform="translate(449.0 412.9) rotate(-90.0) scale(0.926 1)" font-family="Liberation Sans, sans-serif" font-size="10.58" text-anchor="middle" fill="#111" stroke="#111" stroke-width="0.20">MIR-21 Occurrence</text><g fill="#ff0000"><circle cx="468.8" cy="458.9" r="1.15"/><circle cx="470.4" cy="458.9" r="1.15"/><circle cx="472.0" cy="458.9" r="1.15"/><circle cx="473.7" cy="458.9" r="1.15"/><circle cx="475.3" cy="458.9" r="1.15"/><circle cx="476.9" cy="458.9" r="1.15"/><circle cx="478.5" cy="458.9" r="1.15"/><circle cx="480.1" cy="458.9" r="1.15"/><circle cx="481.8" cy="458.9" r="1.15"/><circle cx="483.4" cy="458.9" r="1.15"/><circle cx="485.0" cy="458.9" r="1.15"/><circle cx="486.6" cy="458.9" r="1.15"/><circle cx="488.2" cy="458.9" r="1.15"/><circle cx="489.9" cy="458.9" r="1.15"/><circle cx="491.5" cy="458.9" r="1.15"/><circle cx="493.1" cy="458.9" r="1.15"/><circle cx="494.7" cy="458.9" r="1.15"/><circle cx="496.3" cy="458.9" r="1.15"/><circle cx="498.0" cy="458.9" r="1.15"/><circle cx="499.6" cy="458.9" r="1.15"/><circle cx="501.2" cy="458.9" r="1.15"/><circle cx="502.8" cy="458.9" r="1.15"/><circle cx="504.4" cy="458.9" r="1.15"/><circle cx="506.1" cy="458.9" r="1.15"/><circle cx="507.7" cy="458.9" r="1.15"/><circle cx="509.3" cy="458.9" r="1.15"/><circle cx="510.9" cy="458.9" r="1.15"/><circle cx="512.5" cy="458.9" r="1.15"/><circle cx="514.2" cy="458.9" r="1.15"/></g><g fill="#00ff00"><circle cx="525.3" cy="458.9" r="1.15"/><circle cx="527.0" cy="458.9" r="1.15"/><circle cx="528.6" cy="458.9" r="1.15"/><circle cx="530.3" cy="458.9" r="1.15"/><circle cx="531.9" cy="458.9" r="1.15"/><circle cx="533.6" cy="458.9" r="1.15"/><circle cx="535.3" cy="458.9" r="1.15"/><circle cx="536.9" cy="458.9" r="1.15"/><circle cx="538.6" cy="458.9" r="1.15"/><circle cx="540.2" cy="458.9" r="1.15"/><circle cx="541.9" cy="458.9" r="1.15"/><circle cx="543.6" cy="458.9" r="1.15"/><circle cx="545.2" cy="458.9" r="1.15"/><circle cx="546.9" cy="458.9" r="1.15"/><circle cx="548.5" cy="458.9" r="1.15"/><circle cx="550.2" cy="458.9" r="1.15"/><circle cx="551.9" cy="458.9" r="1.15"/><circle cx="553.5" cy="458.9" r="1.15"/><circle cx="555.2" cy="458.9" r="1.15"/><circle cx="556.8" cy="458.9" r="1.15"/><circle cx="558.5" cy="458.9" r="1.15"/><circle cx="560.2" cy="458.9" r="1.15"/><circle cx="561.8" cy="458.9" r="1.15"/><circle cx="563.5" cy="458.9" r="1.15"/><circle cx="565.1" cy="458.9" r="1.15"/><circle cx="566.8" cy="458.9" r="1.15"/><circle cx="568.5" cy="458.9" r="1.15"/><circle cx="570.1" cy="458.9" r="1.15"/></g><g fill="#0000ff"><circle cx="583.0" cy="458.9" r="1.25"/><circle cx="586.5" cy="458.9" r="1.25"/><circle cx="590.0" cy="458.9" r="1.25"/><circle cx="593.6" cy="458.9" r="1.25"/><circle cx="597.1" cy="458.9" r="1.25"/><circle cx="600.6" cy="458.9" r="1.25"/><circle cx="604.1" cy="458.9" r="1.25"/><circle cx="607.6" cy="458.9" r="1.25"/><circle cx="611.2" cy="458.9" r="1.25"/><circle cx="614.7" cy="458.9" r="1.25"/><circle cx="618.2" cy="458.9" r="1.25"/><circle cx="621.7" cy="458.9" r="1.25"/><circle cx="625.2" cy="458.9" r="1.25"/></g><g fill="#0000ff"><circle cx="603.7" cy="355.3" r="1.30"/><circle cx="603.7" cy="371.4" r="1.30"/><circle cx="603.7" cy="394.2" r="1.30"/><circle cx="605.4" cy="397.5" r="1.30"/><circle cx="602.2" cy="407.0" r="1.30"/></g></svg></body></html>
